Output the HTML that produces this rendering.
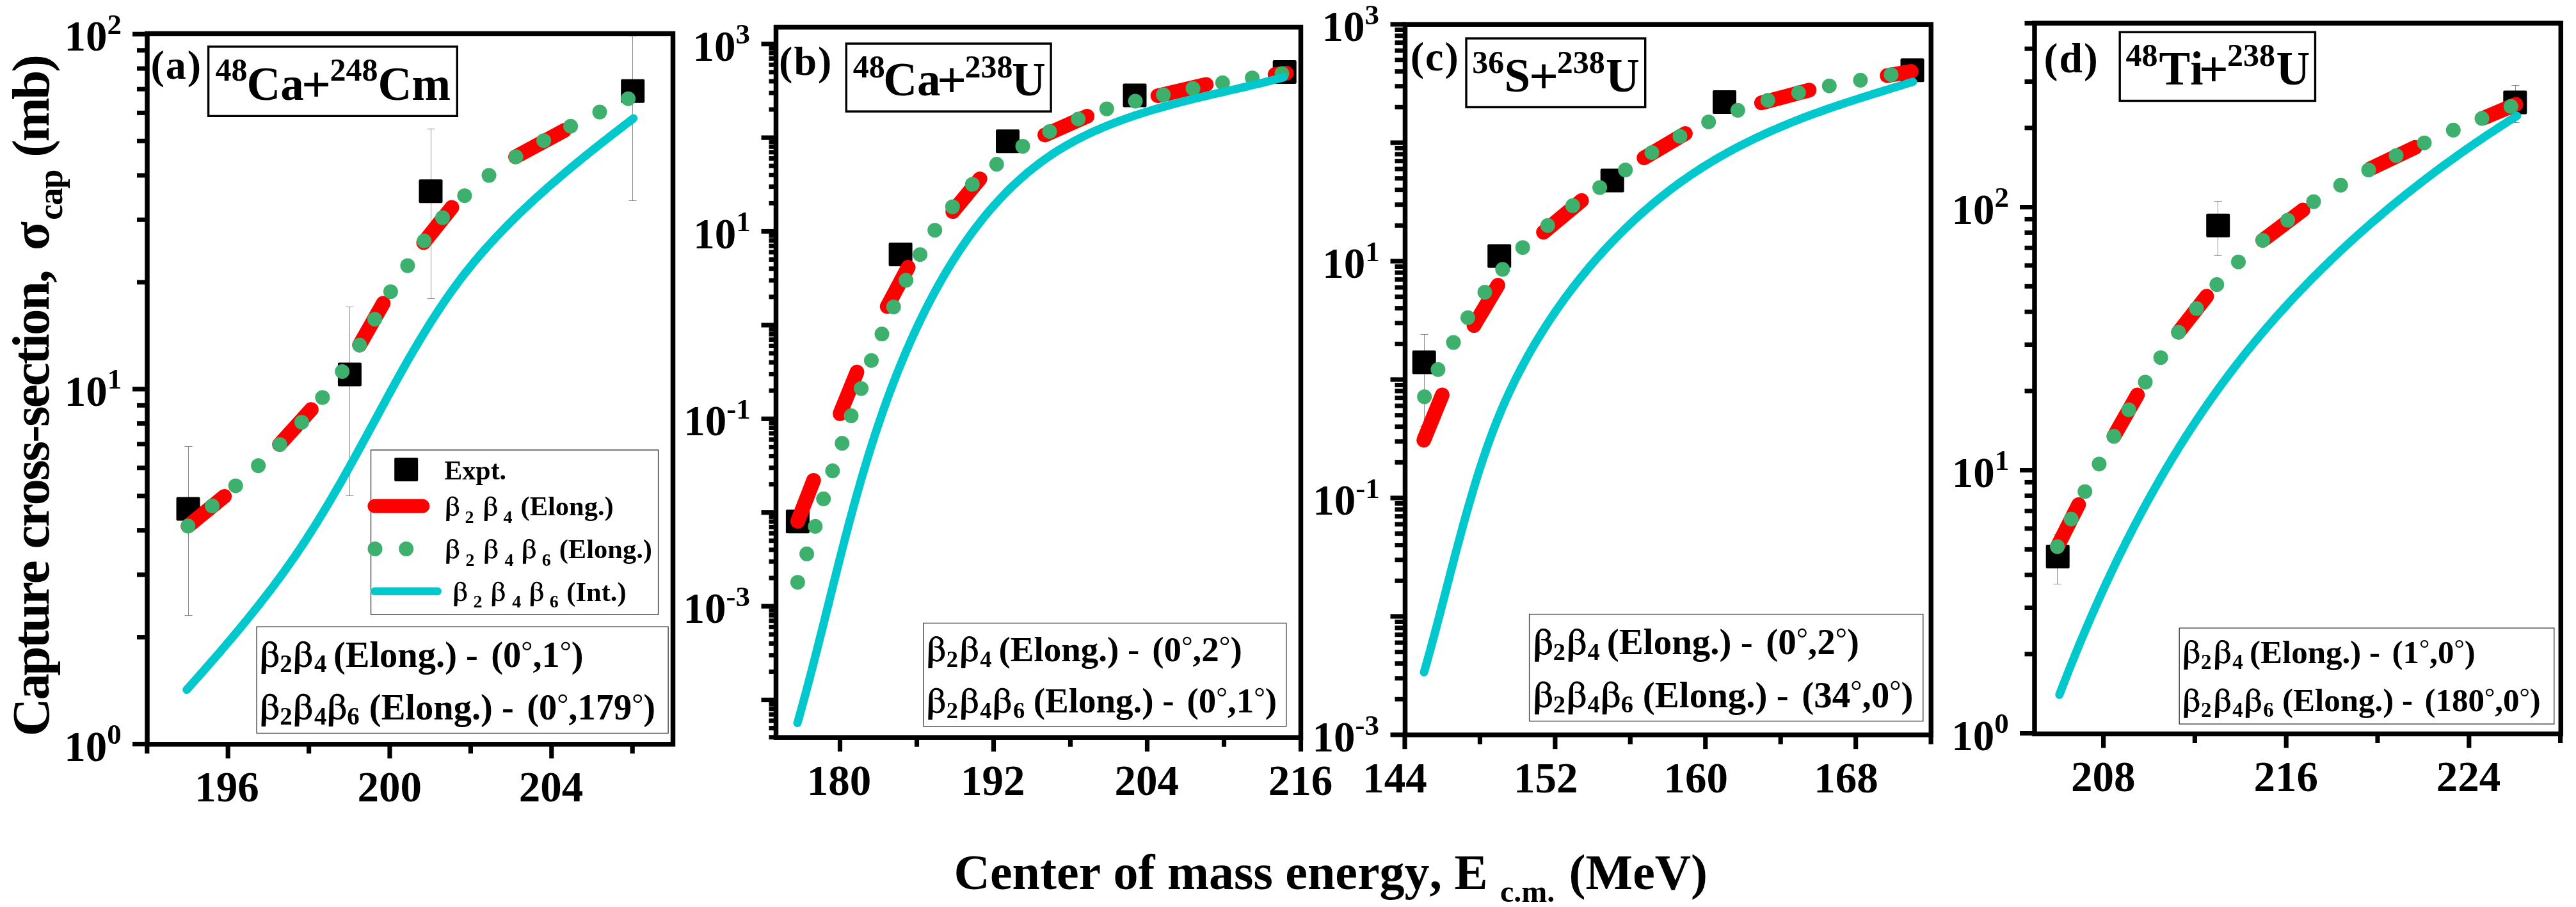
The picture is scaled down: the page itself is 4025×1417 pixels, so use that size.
<!DOCTYPE html>
<html><head><meta charset="utf-8"><style>
html,body{margin:0;padding:0;background:#fff;}
svg{display:block;will-change:transform;}
text{font-family:'Liberation Serif', serif;font-kerning:none;white-space:pre;}
</style></head><body>
<svg width="4025" height="1417" viewBox="0 0 4025 1417">
<defs><path id="beta" fill-rule="evenodd" fill="#000" d="M0,51.3 C0.3,40 0.8,25 1.3,14.6 C1.6,9 3.5,4.5 7.9,1.3 C9.5,0.3 11.2,0 12.9,0 C17.5,0 21.5,2 23.6,5.5 C25.2,8.5 24.7,12.5 22.6,14.6 C21.9,15.3 21.3,15.9 20.8,16.3 C24.4,18.2 26.7,22.4 26.7,27.5 C26.7,34.8 21.8,40.7 15.1,40.7 C12,40.7 9.3,39.8 7.5,38.6 L6.6,51.3 Z M7.3,9.5 C7.4,6.5 9.3,3.1 12.2,3.1 C15,3.1 18,4.5 19.2,7.5 C20.2,10.5 19.6,13.5 17.5,14.9 C16.8,15.4 16.2,15.8 15.8,15.8 L10.4,15.9 C9.9,16.1 9.6,16.6 9.8,17.2 C10,17.8 10.4,18 10.9,18 L15.1,18.3 C18.6,19.5 20.8,23.5 20.8,28.2 C20.8,33.8 17.8,37.8 13.6,37.8 C11.3,37.8 9,36.8 7.5,35.3 Z"/></defs>
<rect width="4025" height="1417" fill="#fff"/>
<line x1="207.00" y1="1162.50" x2="230.00" y2="1162.50" stroke="#000" stroke-width="7.2" stroke-linecap="butt"/>
<line x1="214.00" y1="995.55" x2="230.00" y2="995.55" stroke="#000" stroke-width="7" stroke-linecap="butt"/>
<line x1="214.00" y1="897.89" x2="230.00" y2="897.89" stroke="#000" stroke-width="7" stroke-linecap="butt"/>
<line x1="214.00" y1="828.60" x2="230.00" y2="828.60" stroke="#000" stroke-width="7" stroke-linecap="butt"/>
<line x1="214.00" y1="774.85" x2="230.00" y2="774.85" stroke="#000" stroke-width="7" stroke-linecap="butt"/>
<line x1="214.00" y1="730.94" x2="230.00" y2="730.94" stroke="#000" stroke-width="7" stroke-linecap="butt"/>
<line x1="214.00" y1="693.81" x2="230.00" y2="693.81" stroke="#000" stroke-width="7" stroke-linecap="butt"/>
<line x1="214.00" y1="661.65" x2="230.00" y2="661.65" stroke="#000" stroke-width="7" stroke-linecap="butt"/>
<line x1="214.00" y1="633.28" x2="230.00" y2="633.28" stroke="#000" stroke-width="7" stroke-linecap="butt"/>
<line x1="207.00" y1="607.90" x2="230.00" y2="607.90" stroke="#000" stroke-width="7.2" stroke-linecap="butt"/>
<line x1="214.00" y1="440.95" x2="230.00" y2="440.95" stroke="#000" stroke-width="7" stroke-linecap="butt"/>
<line x1="214.00" y1="343.29" x2="230.00" y2="343.29" stroke="#000" stroke-width="7" stroke-linecap="butt"/>
<line x1="214.00" y1="274.00" x2="230.00" y2="274.00" stroke="#000" stroke-width="7" stroke-linecap="butt"/>
<line x1="214.00" y1="220.25" x2="230.00" y2="220.25" stroke="#000" stroke-width="7" stroke-linecap="butt"/>
<line x1="214.00" y1="176.34" x2="230.00" y2="176.34" stroke="#000" stroke-width="7" stroke-linecap="butt"/>
<line x1="214.00" y1="139.21" x2="230.00" y2="139.21" stroke="#000" stroke-width="7" stroke-linecap="butt"/>
<line x1="214.00" y1="107.05" x2="230.00" y2="107.05" stroke="#000" stroke-width="7" stroke-linecap="butt"/>
<line x1="214.00" y1="78.68" x2="230.00" y2="78.68" stroke="#000" stroke-width="7" stroke-linecap="butt"/>
<line x1="207.00" y1="53.30" x2="230.00" y2="53.30" stroke="#000" stroke-width="7.2" stroke-linecap="butt"/>
<line x1="356.20" y1="1162.80" x2="356.20" y2="1184.80" stroke="#000" stroke-width="7.2" stroke-linecap="butt"/>
<line x1="609.00" y1="1162.80" x2="609.00" y2="1184.80" stroke="#000" stroke-width="7.2" stroke-linecap="butt"/>
<line x1="861.80" y1="1162.80" x2="861.80" y2="1184.80" stroke="#000" stroke-width="7.2" stroke-linecap="butt"/>
<line x1="229.80" y1="1162.80" x2="229.80" y2="1177.30" stroke="#000" stroke-width="7.2" stroke-linecap="butt"/>
<line x1="482.60" y1="1162.80" x2="482.60" y2="1177.30" stroke="#000" stroke-width="7.2" stroke-linecap="butt"/>
<line x1="735.40" y1="1162.80" x2="735.40" y2="1177.30" stroke="#000" stroke-width="7.2" stroke-linecap="butt"/>
<line x1="988.20" y1="1162.80" x2="988.20" y2="1177.30" stroke="#000" stroke-width="7.2" stroke-linecap="butt"/>
<rect x="230.00" y="52.50" width="821.50" height="1110.30" stroke="#000" stroke-width="7.5" fill="none"/>
<text x="304.25" y="1252.30" font-size="67" font-weight="bold">196</text>
<text x="558.62" y="1252.30" font-size="67" font-weight="bold">200</text>
<text x="810.76" y="1252.30" font-size="67" font-weight="bold">204</text>
<text x="167.21" y="1162.00" font-size="45" font-weight="bold">0</text>
<text x="100.21" y="1188.50" font-size="67" font-weight="bold">10</text>
<text x="167.83" y="607.40" font-size="45" font-weight="bold">1</text>
<text x="100.83" y="633.90" font-size="67" font-weight="bold">10</text>
<text x="167.43" y="52.80" font-size="45" font-weight="bold">2</text>
<text x="100.43" y="79.30" font-size="67" font-weight="bold">10</text>
<line x1="1201.50" y1="1151.76" x2="1212.50" y2="1151.76" stroke="#000" stroke-width="7" stroke-linecap="butt"/>
<line x1="1201.50" y1="1137.57" x2="1212.50" y2="1137.57" stroke="#000" stroke-width="7" stroke-linecap="butt"/>
<line x1="1201.50" y1="1125.98" x2="1212.50" y2="1125.98" stroke="#000" stroke-width="7" stroke-linecap="butt"/>
<line x1="1201.50" y1="1116.18" x2="1212.50" y2="1116.18" stroke="#000" stroke-width="7" stroke-linecap="butt"/>
<line x1="1201.50" y1="1107.69" x2="1212.50" y2="1107.69" stroke="#000" stroke-width="7" stroke-linecap="butt"/>
<line x1="1201.50" y1="1100.20" x2="1212.50" y2="1100.20" stroke="#000" stroke-width="7" stroke-linecap="butt"/>
<line x1="1189.50" y1="1093.50" x2="1212.50" y2="1093.50" stroke="#000" stroke-width="7.2" stroke-linecap="butt"/>
<line x1="1201.50" y1="1049.43" x2="1212.50" y2="1049.43" stroke="#000" stroke-width="7" stroke-linecap="butt"/>
<line x1="1201.50" y1="1023.65" x2="1212.50" y2="1023.65" stroke="#000" stroke-width="7" stroke-linecap="butt"/>
<line x1="1201.50" y1="1005.36" x2="1212.50" y2="1005.36" stroke="#000" stroke-width="7" stroke-linecap="butt"/>
<line x1="1201.50" y1="991.17" x2="1212.50" y2="991.17" stroke="#000" stroke-width="7" stroke-linecap="butt"/>
<line x1="1201.50" y1="979.58" x2="1212.50" y2="979.58" stroke="#000" stroke-width="7" stroke-linecap="butt"/>
<line x1="1201.50" y1="969.78" x2="1212.50" y2="969.78" stroke="#000" stroke-width="7" stroke-linecap="butt"/>
<line x1="1201.50" y1="961.29" x2="1212.50" y2="961.29" stroke="#000" stroke-width="7" stroke-linecap="butt"/>
<line x1="1201.50" y1="953.80" x2="1212.50" y2="953.80" stroke="#000" stroke-width="7" stroke-linecap="butt"/>
<line x1="1189.50" y1="947.10" x2="1212.50" y2="947.10" stroke="#000" stroke-width="7.2" stroke-linecap="butt"/>
<line x1="1201.50" y1="903.03" x2="1212.50" y2="903.03" stroke="#000" stroke-width="7" stroke-linecap="butt"/>
<line x1="1201.50" y1="877.25" x2="1212.50" y2="877.25" stroke="#000" stroke-width="7" stroke-linecap="butt"/>
<line x1="1201.50" y1="858.96" x2="1212.50" y2="858.96" stroke="#000" stroke-width="7" stroke-linecap="butt"/>
<line x1="1201.50" y1="844.77" x2="1212.50" y2="844.77" stroke="#000" stroke-width="7" stroke-linecap="butt"/>
<line x1="1201.50" y1="833.18" x2="1212.50" y2="833.18" stroke="#000" stroke-width="7" stroke-linecap="butt"/>
<line x1="1201.50" y1="823.38" x2="1212.50" y2="823.38" stroke="#000" stroke-width="7" stroke-linecap="butt"/>
<line x1="1201.50" y1="814.89" x2="1212.50" y2="814.89" stroke="#000" stroke-width="7" stroke-linecap="butt"/>
<line x1="1201.50" y1="807.40" x2="1212.50" y2="807.40" stroke="#000" stroke-width="7" stroke-linecap="butt"/>
<line x1="1189.50" y1="800.70" x2="1212.50" y2="800.70" stroke="#000" stroke-width="7.2" stroke-linecap="butt"/>
<line x1="1201.50" y1="756.63" x2="1212.50" y2="756.63" stroke="#000" stroke-width="7" stroke-linecap="butt"/>
<line x1="1201.50" y1="730.85" x2="1212.50" y2="730.85" stroke="#000" stroke-width="7" stroke-linecap="butt"/>
<line x1="1201.50" y1="712.56" x2="1212.50" y2="712.56" stroke="#000" stroke-width="7" stroke-linecap="butt"/>
<line x1="1201.50" y1="698.37" x2="1212.50" y2="698.37" stroke="#000" stroke-width="7" stroke-linecap="butt"/>
<line x1="1201.50" y1="686.78" x2="1212.50" y2="686.78" stroke="#000" stroke-width="7" stroke-linecap="butt"/>
<line x1="1201.50" y1="676.98" x2="1212.50" y2="676.98" stroke="#000" stroke-width="7" stroke-linecap="butt"/>
<line x1="1201.50" y1="668.49" x2="1212.50" y2="668.49" stroke="#000" stroke-width="7" stroke-linecap="butt"/>
<line x1="1201.50" y1="661.00" x2="1212.50" y2="661.00" stroke="#000" stroke-width="7" stroke-linecap="butt"/>
<line x1="1189.50" y1="654.30" x2="1212.50" y2="654.30" stroke="#000" stroke-width="7.2" stroke-linecap="butt"/>
<line x1="1201.50" y1="610.23" x2="1212.50" y2="610.23" stroke="#000" stroke-width="7" stroke-linecap="butt"/>
<line x1="1201.50" y1="584.45" x2="1212.50" y2="584.45" stroke="#000" stroke-width="7" stroke-linecap="butt"/>
<line x1="1201.50" y1="566.16" x2="1212.50" y2="566.16" stroke="#000" stroke-width="7" stroke-linecap="butt"/>
<line x1="1201.50" y1="551.97" x2="1212.50" y2="551.97" stroke="#000" stroke-width="7" stroke-linecap="butt"/>
<line x1="1201.50" y1="540.38" x2="1212.50" y2="540.38" stroke="#000" stroke-width="7" stroke-linecap="butt"/>
<line x1="1201.50" y1="530.58" x2="1212.50" y2="530.58" stroke="#000" stroke-width="7" stroke-linecap="butt"/>
<line x1="1201.50" y1="522.09" x2="1212.50" y2="522.09" stroke="#000" stroke-width="7" stroke-linecap="butt"/>
<line x1="1201.50" y1="514.60" x2="1212.50" y2="514.60" stroke="#000" stroke-width="7" stroke-linecap="butt"/>
<line x1="1189.50" y1="507.90" x2="1212.50" y2="507.90" stroke="#000" stroke-width="7.2" stroke-linecap="butt"/>
<line x1="1201.50" y1="463.83" x2="1212.50" y2="463.83" stroke="#000" stroke-width="7" stroke-linecap="butt"/>
<line x1="1201.50" y1="438.05" x2="1212.50" y2="438.05" stroke="#000" stroke-width="7" stroke-linecap="butt"/>
<line x1="1201.50" y1="419.76" x2="1212.50" y2="419.76" stroke="#000" stroke-width="7" stroke-linecap="butt"/>
<line x1="1201.50" y1="405.57" x2="1212.50" y2="405.57" stroke="#000" stroke-width="7" stroke-linecap="butt"/>
<line x1="1201.50" y1="393.98" x2="1212.50" y2="393.98" stroke="#000" stroke-width="7" stroke-linecap="butt"/>
<line x1="1201.50" y1="384.18" x2="1212.50" y2="384.18" stroke="#000" stroke-width="7" stroke-linecap="butt"/>
<line x1="1201.50" y1="375.69" x2="1212.50" y2="375.69" stroke="#000" stroke-width="7" stroke-linecap="butt"/>
<line x1="1201.50" y1="368.20" x2="1212.50" y2="368.20" stroke="#000" stroke-width="7" stroke-linecap="butt"/>
<line x1="1189.50" y1="361.50" x2="1212.50" y2="361.50" stroke="#000" stroke-width="7.2" stroke-linecap="butt"/>
<line x1="1201.50" y1="317.43" x2="1212.50" y2="317.43" stroke="#000" stroke-width="7" stroke-linecap="butt"/>
<line x1="1201.50" y1="291.65" x2="1212.50" y2="291.65" stroke="#000" stroke-width="7" stroke-linecap="butt"/>
<line x1="1201.50" y1="273.36" x2="1212.50" y2="273.36" stroke="#000" stroke-width="7" stroke-linecap="butt"/>
<line x1="1201.50" y1="259.17" x2="1212.50" y2="259.17" stroke="#000" stroke-width="7" stroke-linecap="butt"/>
<line x1="1201.50" y1="247.58" x2="1212.50" y2="247.58" stroke="#000" stroke-width="7" stroke-linecap="butt"/>
<line x1="1201.50" y1="237.78" x2="1212.50" y2="237.78" stroke="#000" stroke-width="7" stroke-linecap="butt"/>
<line x1="1201.50" y1="229.29" x2="1212.50" y2="229.29" stroke="#000" stroke-width="7" stroke-linecap="butt"/>
<line x1="1201.50" y1="221.80" x2="1212.50" y2="221.80" stroke="#000" stroke-width="7" stroke-linecap="butt"/>
<line x1="1189.50" y1="215.10" x2="1212.50" y2="215.10" stroke="#000" stroke-width="7.2" stroke-linecap="butt"/>
<line x1="1201.50" y1="171.03" x2="1212.50" y2="171.03" stroke="#000" stroke-width="7" stroke-linecap="butt"/>
<line x1="1201.50" y1="145.25" x2="1212.50" y2="145.25" stroke="#000" stroke-width="7" stroke-linecap="butt"/>
<line x1="1201.50" y1="126.96" x2="1212.50" y2="126.96" stroke="#000" stroke-width="7" stroke-linecap="butt"/>
<line x1="1201.50" y1="112.77" x2="1212.50" y2="112.77" stroke="#000" stroke-width="7" stroke-linecap="butt"/>
<line x1="1201.50" y1="101.18" x2="1212.50" y2="101.18" stroke="#000" stroke-width="7" stroke-linecap="butt"/>
<line x1="1201.50" y1="91.38" x2="1212.50" y2="91.38" stroke="#000" stroke-width="7" stroke-linecap="butt"/>
<line x1="1201.50" y1="82.89" x2="1212.50" y2="82.89" stroke="#000" stroke-width="7" stroke-linecap="butt"/>
<line x1="1201.50" y1="75.40" x2="1212.50" y2="75.40" stroke="#000" stroke-width="7" stroke-linecap="butt"/>
<line x1="1189.50" y1="68.70" x2="1212.50" y2="68.70" stroke="#000" stroke-width="7.2" stroke-linecap="butt"/>
<line x1="1312.50" y1="1152.20" x2="1312.50" y2="1174.20" stroke="#000" stroke-width="7.2" stroke-linecap="butt"/>
<line x1="1552.50" y1="1152.20" x2="1552.50" y2="1174.20" stroke="#000" stroke-width="7.2" stroke-linecap="butt"/>
<line x1="1792.50" y1="1152.20" x2="1792.50" y2="1174.20" stroke="#000" stroke-width="7.2" stroke-linecap="butt"/>
<line x1="2032.50" y1="1152.20" x2="2032.50" y2="1174.20" stroke="#000" stroke-width="7.2" stroke-linecap="butt"/>
<line x1="1432.50" y1="1152.20" x2="1432.50" y2="1166.70" stroke="#000" stroke-width="7.2" stroke-linecap="butt"/>
<line x1="1672.50" y1="1152.20" x2="1672.50" y2="1166.70" stroke="#000" stroke-width="7.2" stroke-linecap="butt"/>
<line x1="1912.50" y1="1152.20" x2="1912.50" y2="1166.70" stroke="#000" stroke-width="7.2" stroke-linecap="butt"/>
<rect x="1212.50" y="42.50" width="820.00" height="1109.70" stroke="#000" stroke-width="7.5" fill="none"/>
<text x="1260.84" y="1241.70" font-size="67" font-weight="bold">180</text>
<text x="1501.01" y="1241.70" font-size="67" font-weight="bold">192</text>
<text x="1741.46" y="1241.70" font-size="67" font-weight="bold">204</text>
<text x="1981.82" y="1241.70" font-size="67" font-weight="bold">216</text>
<text x="1149.54" y="68.20" font-size="45" font-weight="bold">3</text>
<text x="1082.54" y="94.70" font-size="67" font-weight="bold">10</text>
<text x="1150.33" y="361.00" font-size="45" font-weight="bold">1</text>
<text x="1083.33" y="387.50" font-size="67" font-weight="bold">10</text>
<text x="1135.34" y="653.80" font-size="45" font-weight="bold">-1</text>
<text x="1068.34" y="680.30" font-size="67" font-weight="bold">10</text>
<text x="1134.55" y="946.60" font-size="45" font-weight="bold">-3</text>
<text x="1067.55" y="973.10" font-size="67" font-weight="bold">10</text>
<line x1="2172.50" y1="1148.00" x2="2195.50" y2="1148.00" stroke="#000" stroke-width="7.2" stroke-linecap="butt"/>
<line x1="2179.50" y1="1092.31" x2="2195.50" y2="1092.31" stroke="#000" stroke-width="7" stroke-linecap="butt"/>
<line x1="2179.50" y1="1059.73" x2="2195.50" y2="1059.73" stroke="#000" stroke-width="7" stroke-linecap="butt"/>
<line x1="2179.50" y1="1036.62" x2="2195.50" y2="1036.62" stroke="#000" stroke-width="7" stroke-linecap="butt"/>
<line x1="2179.50" y1="1018.69" x2="2195.50" y2="1018.69" stroke="#000" stroke-width="7" stroke-linecap="butt"/>
<line x1="2179.50" y1="1004.04" x2="2195.50" y2="1004.04" stroke="#000" stroke-width="7" stroke-linecap="butt"/>
<line x1="2179.50" y1="991.66" x2="2195.50" y2="991.66" stroke="#000" stroke-width="7" stroke-linecap="butt"/>
<line x1="2179.50" y1="980.93" x2="2195.50" y2="980.93" stroke="#000" stroke-width="7" stroke-linecap="butt"/>
<line x1="2179.50" y1="971.47" x2="2195.50" y2="971.47" stroke="#000" stroke-width="7" stroke-linecap="butt"/>
<line x1="2172.50" y1="963.00" x2="2195.50" y2="963.00" stroke="#000" stroke-width="7.2" stroke-linecap="butt"/>
<line x1="2179.50" y1="907.31" x2="2195.50" y2="907.31" stroke="#000" stroke-width="7" stroke-linecap="butt"/>
<line x1="2179.50" y1="874.73" x2="2195.50" y2="874.73" stroke="#000" stroke-width="7" stroke-linecap="butt"/>
<line x1="2179.50" y1="851.62" x2="2195.50" y2="851.62" stroke="#000" stroke-width="7" stroke-linecap="butt"/>
<line x1="2179.50" y1="833.69" x2="2195.50" y2="833.69" stroke="#000" stroke-width="7" stroke-linecap="butt"/>
<line x1="2179.50" y1="819.04" x2="2195.50" y2="819.04" stroke="#000" stroke-width="7" stroke-linecap="butt"/>
<line x1="2179.50" y1="806.66" x2="2195.50" y2="806.66" stroke="#000" stroke-width="7" stroke-linecap="butt"/>
<line x1="2179.50" y1="795.93" x2="2195.50" y2="795.93" stroke="#000" stroke-width="7" stroke-linecap="butt"/>
<line x1="2179.50" y1="786.47" x2="2195.50" y2="786.47" stroke="#000" stroke-width="7" stroke-linecap="butt"/>
<line x1="2172.50" y1="778.00" x2="2195.50" y2="778.00" stroke="#000" stroke-width="7.2" stroke-linecap="butt"/>
<line x1="2179.50" y1="722.31" x2="2195.50" y2="722.31" stroke="#000" stroke-width="7" stroke-linecap="butt"/>
<line x1="2179.50" y1="689.73" x2="2195.50" y2="689.73" stroke="#000" stroke-width="7" stroke-linecap="butt"/>
<line x1="2179.50" y1="666.62" x2="2195.50" y2="666.62" stroke="#000" stroke-width="7" stroke-linecap="butt"/>
<line x1="2179.50" y1="648.69" x2="2195.50" y2="648.69" stroke="#000" stroke-width="7" stroke-linecap="butt"/>
<line x1="2179.50" y1="634.04" x2="2195.50" y2="634.04" stroke="#000" stroke-width="7" stroke-linecap="butt"/>
<line x1="2179.50" y1="621.66" x2="2195.50" y2="621.66" stroke="#000" stroke-width="7" stroke-linecap="butt"/>
<line x1="2179.50" y1="610.93" x2="2195.50" y2="610.93" stroke="#000" stroke-width="7" stroke-linecap="butt"/>
<line x1="2179.50" y1="601.47" x2="2195.50" y2="601.47" stroke="#000" stroke-width="7" stroke-linecap="butt"/>
<line x1="2172.50" y1="593.00" x2="2195.50" y2="593.00" stroke="#000" stroke-width="7.2" stroke-linecap="butt"/>
<line x1="2179.50" y1="537.31" x2="2195.50" y2="537.31" stroke="#000" stroke-width="7" stroke-linecap="butt"/>
<line x1="2179.50" y1="504.73" x2="2195.50" y2="504.73" stroke="#000" stroke-width="7" stroke-linecap="butt"/>
<line x1="2179.50" y1="481.62" x2="2195.50" y2="481.62" stroke="#000" stroke-width="7" stroke-linecap="butt"/>
<line x1="2179.50" y1="463.69" x2="2195.50" y2="463.69" stroke="#000" stroke-width="7" stroke-linecap="butt"/>
<line x1="2179.50" y1="449.04" x2="2195.50" y2="449.04" stroke="#000" stroke-width="7" stroke-linecap="butt"/>
<line x1="2179.50" y1="436.66" x2="2195.50" y2="436.66" stroke="#000" stroke-width="7" stroke-linecap="butt"/>
<line x1="2179.50" y1="425.93" x2="2195.50" y2="425.93" stroke="#000" stroke-width="7" stroke-linecap="butt"/>
<line x1="2179.50" y1="416.47" x2="2195.50" y2="416.47" stroke="#000" stroke-width="7" stroke-linecap="butt"/>
<line x1="2172.50" y1="408.00" x2="2195.50" y2="408.00" stroke="#000" stroke-width="7.2" stroke-linecap="butt"/>
<line x1="2179.50" y1="352.31" x2="2195.50" y2="352.31" stroke="#000" stroke-width="7" stroke-linecap="butt"/>
<line x1="2179.50" y1="319.73" x2="2195.50" y2="319.73" stroke="#000" stroke-width="7" stroke-linecap="butt"/>
<line x1="2179.50" y1="296.62" x2="2195.50" y2="296.62" stroke="#000" stroke-width="7" stroke-linecap="butt"/>
<line x1="2179.50" y1="278.69" x2="2195.50" y2="278.69" stroke="#000" stroke-width="7" stroke-linecap="butt"/>
<line x1="2179.50" y1="264.04" x2="2195.50" y2="264.04" stroke="#000" stroke-width="7" stroke-linecap="butt"/>
<line x1="2179.50" y1="251.66" x2="2195.50" y2="251.66" stroke="#000" stroke-width="7" stroke-linecap="butt"/>
<line x1="2179.50" y1="240.93" x2="2195.50" y2="240.93" stroke="#000" stroke-width="7" stroke-linecap="butt"/>
<line x1="2179.50" y1="231.47" x2="2195.50" y2="231.47" stroke="#000" stroke-width="7" stroke-linecap="butt"/>
<line x1="2172.50" y1="223.00" x2="2195.50" y2="223.00" stroke="#000" stroke-width="7.2" stroke-linecap="butt"/>
<line x1="2179.50" y1="167.31" x2="2195.50" y2="167.31" stroke="#000" stroke-width="7" stroke-linecap="butt"/>
<line x1="2179.50" y1="134.73" x2="2195.50" y2="134.73" stroke="#000" stroke-width="7" stroke-linecap="butt"/>
<line x1="2179.50" y1="111.62" x2="2195.50" y2="111.62" stroke="#000" stroke-width="7" stroke-linecap="butt"/>
<line x1="2179.50" y1="93.69" x2="2195.50" y2="93.69" stroke="#000" stroke-width="7" stroke-linecap="butt"/>
<line x1="2179.50" y1="79.04" x2="2195.50" y2="79.04" stroke="#000" stroke-width="7" stroke-linecap="butt"/>
<line x1="2179.50" y1="66.66" x2="2195.50" y2="66.66" stroke="#000" stroke-width="7" stroke-linecap="butt"/>
<line x1="2179.50" y1="55.93" x2="2195.50" y2="55.93" stroke="#000" stroke-width="7" stroke-linecap="butt"/>
<line x1="2179.50" y1="46.47" x2="2195.50" y2="46.47" stroke="#000" stroke-width="7" stroke-linecap="butt"/>
<line x1="2172.50" y1="38.00" x2="2195.50" y2="38.00" stroke="#000" stroke-width="7.2" stroke-linecap="butt"/>
<line x1="2195.00" y1="1148.20" x2="2195.00" y2="1170.20" stroke="#000" stroke-width="7.2" stroke-linecap="butt"/>
<line x1="2429.88" y1="1148.20" x2="2429.88" y2="1170.20" stroke="#000" stroke-width="7.2" stroke-linecap="butt"/>
<line x1="2664.76" y1="1148.20" x2="2664.76" y2="1170.20" stroke="#000" stroke-width="7.2" stroke-linecap="butt"/>
<line x1="2899.64" y1="1148.20" x2="2899.64" y2="1170.20" stroke="#000" stroke-width="7.2" stroke-linecap="butt"/>
<line x1="2312.44" y1="1148.20" x2="2312.44" y2="1162.70" stroke="#000" stroke-width="7.2" stroke-linecap="butt"/>
<line x1="2547.32" y1="1148.20" x2="2547.32" y2="1162.70" stroke="#000" stroke-width="7.2" stroke-linecap="butt"/>
<line x1="2782.20" y1="1148.20" x2="2782.20" y2="1162.70" stroke="#000" stroke-width="7.2" stroke-linecap="butt"/>
<line x1="3017.08" y1="1148.20" x2="3017.08" y2="1162.70" stroke="#000" stroke-width="7.2" stroke-linecap="butt"/>
<rect x="2195.50" y="38.20" width="821.80" height="1110.00" stroke="#000" stroke-width="7.5" fill="none"/>
<text x="2129.19" y="1237.70" font-size="67" font-weight="bold">144</text>
<text x="2364.89" y="1237.70" font-size="67" font-weight="bold">152</text>
<text x="2599.60" y="1237.70" font-size="67" font-weight="bold">160</text>
<text x="2834.32" y="1237.70" font-size="67" font-weight="bold">168</text>
<text x="2132.54" y="37.50" font-size="45" font-weight="bold">3</text>
<text x="2065.54" y="64.00" font-size="67" font-weight="bold">10</text>
<text x="2133.33" y="407.50" font-size="45" font-weight="bold">1</text>
<text x="2066.33" y="434.00" font-size="67" font-weight="bold">10</text>
<text x="2118.34" y="777.50" font-size="45" font-weight="bold">-1</text>
<text x="2051.34" y="804.00" font-size="67" font-weight="bold">10</text>
<text x="2117.55" y="1147.50" font-size="45" font-weight="bold">-3</text>
<text x="2050.55" y="1174.00" font-size="67" font-weight="bold">10</text>
<line x1="3156.00" y1="1145.60" x2="3179.00" y2="1145.60" stroke="#000" stroke-width="7.2" stroke-linecap="butt"/>
<line x1="3163.50" y1="1021.88" x2="3179.00" y2="1021.88" stroke="#000" stroke-width="7" stroke-linecap="butt"/>
<line x1="3163.50" y1="949.50" x2="3179.00" y2="949.50" stroke="#000" stroke-width="7" stroke-linecap="butt"/>
<line x1="3163.50" y1="898.15" x2="3179.00" y2="898.15" stroke="#000" stroke-width="7" stroke-linecap="butt"/>
<line x1="3163.50" y1="858.32" x2="3179.00" y2="858.32" stroke="#000" stroke-width="7" stroke-linecap="butt"/>
<line x1="3163.50" y1="825.78" x2="3179.00" y2="825.78" stroke="#000" stroke-width="7" stroke-linecap="butt"/>
<line x1="3163.50" y1="798.26" x2="3179.00" y2="798.26" stroke="#000" stroke-width="7" stroke-linecap="butt"/>
<line x1="3163.50" y1="774.43" x2="3179.00" y2="774.43" stroke="#000" stroke-width="7" stroke-linecap="butt"/>
<line x1="3163.50" y1="753.41" x2="3179.00" y2="753.41" stroke="#000" stroke-width="7" stroke-linecap="butt"/>
<line x1="3156.00" y1="734.60" x2="3179.00" y2="734.60" stroke="#000" stroke-width="7.2" stroke-linecap="butt"/>
<line x1="3163.50" y1="610.88" x2="3179.00" y2="610.88" stroke="#000" stroke-width="7" stroke-linecap="butt"/>
<line x1="3163.50" y1="538.50" x2="3179.00" y2="538.50" stroke="#000" stroke-width="7" stroke-linecap="butt"/>
<line x1="3163.50" y1="487.15" x2="3179.00" y2="487.15" stroke="#000" stroke-width="7" stroke-linecap="butt"/>
<line x1="3163.50" y1="447.32" x2="3179.00" y2="447.32" stroke="#000" stroke-width="7" stroke-linecap="butt"/>
<line x1="3163.50" y1="414.78" x2="3179.00" y2="414.78" stroke="#000" stroke-width="7" stroke-linecap="butt"/>
<line x1="3163.50" y1="387.26" x2="3179.00" y2="387.26" stroke="#000" stroke-width="7" stroke-linecap="butt"/>
<line x1="3163.50" y1="363.43" x2="3179.00" y2="363.43" stroke="#000" stroke-width="7" stroke-linecap="butt"/>
<line x1="3163.50" y1="342.41" x2="3179.00" y2="342.41" stroke="#000" stroke-width="7" stroke-linecap="butt"/>
<line x1="3156.00" y1="323.60" x2="3179.00" y2="323.60" stroke="#000" stroke-width="7.2" stroke-linecap="butt"/>
<line x1="3163.50" y1="199.88" x2="3179.00" y2="199.88" stroke="#000" stroke-width="7" stroke-linecap="butt"/>
<line x1="3163.50" y1="127.50" x2="3179.00" y2="127.50" stroke="#000" stroke-width="7" stroke-linecap="butt"/>
<line x1="3163.50" y1="76.15" x2="3179.00" y2="76.15" stroke="#000" stroke-width="7" stroke-linecap="butt"/>
<line x1="3163.50" y1="36.32" x2="3179.00" y2="36.32" stroke="#000" stroke-width="7" stroke-linecap="butt"/>
<line x1="3286.60" y1="1146.50" x2="3286.60" y2="1168.50" stroke="#000" stroke-width="7.2" stroke-linecap="butt"/>
<line x1="3572.20" y1="1146.50" x2="3572.20" y2="1168.50" stroke="#000" stroke-width="7.2" stroke-linecap="butt"/>
<line x1="3857.80" y1="1146.50" x2="3857.80" y2="1168.50" stroke="#000" stroke-width="7.2" stroke-linecap="butt"/>
<line x1="3429.40" y1="1146.50" x2="3429.40" y2="1161.00" stroke="#000" stroke-width="7.2" stroke-linecap="butt"/>
<line x1="3715.00" y1="1146.50" x2="3715.00" y2="1161.00" stroke="#000" stroke-width="7.2" stroke-linecap="butt"/>
<line x1="4000.60" y1="1146.50" x2="4000.60" y2="1161.00" stroke="#000" stroke-width="7.2" stroke-linecap="butt"/>
<rect x="3179.00" y="36.20" width="822.30" height="1110.30" stroke="#000" stroke-width="7.5" fill="none"/>
<text x="3236.06" y="1236.00" font-size="67" font-weight="bold">208</text>
<text x="3521.52" y="1236.00" font-size="67" font-weight="bold">216</text>
<text x="3806.76" y="1236.00" font-size="67" font-weight="bold">224</text>
<text x="3116.21" y="1145.10" font-size="45" font-weight="bold">0</text>
<text x="3049.21" y="1171.60" font-size="67" font-weight="bold">10</text>
<text x="3116.83" y="734.10" font-size="45" font-weight="bold">1</text>
<text x="3049.83" y="760.60" font-size="67" font-weight="bold">10</text>
<text x="3116.43" y="323.10" font-size="45" font-weight="bold">2</text>
<text x="3049.43" y="349.60" font-size="67" font-weight="bold">10</text>
<clipPath id="clipa"><rect x="233.75" y="56.25" width="814.0" height="1102.8"/></clipPath>
<g clip-path="url(#clipa)">
<line x1="294.50" y1="697.50" x2="294.50" y2="961.50" stroke="#8c8c8c" stroke-width="1" stroke-linecap="butt"/>
<line x1="288.50" y1="697.50" x2="300.50" y2="697.50" stroke="#8c8c8c" stroke-width="1" stroke-linecap="butt"/>
<line x1="288.50" y1="961.50" x2="300.50" y2="961.50" stroke="#8c8c8c" stroke-width="1" stroke-linecap="butt"/>
<line x1="546.50" y1="479.50" x2="546.50" y2="774.50" stroke="#8c8c8c" stroke-width="1" stroke-linecap="butt"/>
<line x1="540.50" y1="479.50" x2="552.50" y2="479.50" stroke="#8c8c8c" stroke-width="1" stroke-linecap="butt"/>
<line x1="540.50" y1="774.50" x2="552.50" y2="774.50" stroke="#8c8c8c" stroke-width="1" stroke-linecap="butt"/>
<line x1="673.50" y1="201.50" x2="673.50" y2="466.50" stroke="#8c8c8c" stroke-width="1" stroke-linecap="butt"/>
<line x1="667.50" y1="201.50" x2="679.50" y2="201.50" stroke="#8c8c8c" stroke-width="1" stroke-linecap="butt"/>
<line x1="667.50" y1="466.50" x2="679.50" y2="466.50" stroke="#8c8c8c" stroke-width="1" stroke-linecap="butt"/>
<line x1="988.50" y1="56.50" x2="988.50" y2="313.50" stroke="#8c8c8c" stroke-width="1" stroke-linecap="butt"/>
<line x1="982.50" y1="56.50" x2="994.50" y2="56.50" stroke="#8c8c8c" stroke-width="1" stroke-linecap="butt"/>
<line x1="982.50" y1="313.50" x2="994.50" y2="313.50" stroke="#8c8c8c" stroke-width="1" stroke-linecap="butt"/>
<rect x="970.2" y="123.7" width="37" height="37" rx="2" fill="#000"/>
<rect x="654.5" y="280.3" width="37" height="37" rx="2" fill="#000"/>
<rect x="527.9" y="566.6" width="37" height="37" rx="2" fill="#000"/>
<rect x="275.5" y="776.5" width="37" height="37" rx="2" fill="#000"/>
<line x1="805.60" y1="245.00" x2="881.70" y2="203.80" stroke="#ff0000" stroke-width="23" stroke-linecap="round"/>
<line x1="662.00" y1="379.00" x2="706.00" y2="324.00" stroke="#ff0000" stroke-width="23" stroke-linecap="round"/>
<line x1="561.80" y1="539.00" x2="598.80" y2="473.90" stroke="#ff0000" stroke-width="23" stroke-linecap="round"/>
<line x1="436.70" y1="694.40" x2="486.30" y2="639.80" stroke="#ff0000" stroke-width="23" stroke-linecap="round"/>
<line x1="293.80" y1="821.80" x2="350.70" y2="775.40" stroke="#ff0000" stroke-width="23" stroke-linecap="round"/>
<circle cx="981.6" cy="154.2" r="11.5" fill="#3cb06c"/>
<circle cx="937.0" cy="175.0" r="11.5" fill="#3cb06c"/>
<circle cx="891.6" cy="197.2" r="11.5" fill="#3cb06c"/>
<circle cx="849.6" cy="219.7" r="11.5" fill="#3cb06c"/>
<circle cx="806.2" cy="245.1" r="11.5" fill="#3cb06c"/>
<circle cx="764.0" cy="274.0" r="11.5" fill="#3cb06c"/>
<circle cx="725.9" cy="305.7" r="11.5" fill="#3cb06c"/>
<circle cx="691.5" cy="340.0" r="11.5" fill="#3cb06c"/>
<circle cx="662.7" cy="376.3" r="11.5" fill="#3cb06c"/>
<circle cx="636.9" cy="415.0" r="11.5" fill="#3cb06c"/>
<circle cx="610.4" cy="455.7" r="11.5" fill="#3cb06c"/>
<circle cx="585.6" cy="498.7" r="11.5" fill="#3cb06c"/>
<circle cx="561.8" cy="539.1" r="11.5" fill="#3cb06c"/>
<circle cx="534.7" cy="580.4" r="11.5" fill="#3cb06c"/>
<circle cx="503.9" cy="621.0" r="11.5" fill="#3cb06c"/>
<circle cx="471.5" cy="659.7" r="11.5" fill="#3cb06c"/>
<circle cx="437.4" cy="694.4" r="11.5" fill="#3cb06c"/>
<circle cx="403.6" cy="727.5" r="11.5" fill="#3cb06c"/>
<circle cx="368.2" cy="758.9" r="11.5" fill="#3cb06c"/>
<circle cx="331.5" cy="790.3" r="11.5" fill="#3cb06c"/>
<circle cx="293.8" cy="821.8" r="11.5" fill="#3cb06c"/>
<path d="M989.8,184.9 L986.8,187.2 L983.8,189.5 L980.8,191.8 L977.7,194.1 L974.7,196.4 L971.7,198.8 L968.7,201.1 L965.7,203.4 L962.7,205.8 L959.6,208.1 L956.6,210.4 L953.6,212.8 L950.6,215.1 L947.6,217.5 L944.6,219.8 L941.6,222.2 L938.5,224.6 L935.5,226.9 L932.5,229.3 L929.5,231.7 L926.5,234.1 L923.5,236.5 L920.5,238.9 L917.5,241.3 L914.5,243.7 L911.6,246.1 L908.6,248.5 L905.6,251.0 L902.6,253.4 L899.6,255.8 L896.7,258.3 L893.7,260.7 L890.7,263.2 L887.8,265.7 L884.8,268.1 L881.9,270.6 L879.0,273.1 L876.0,275.6 L873.1,278.1 L870.2,280.6 L867.3,283.1 L864.3,285.6 L861.4,288.1 L858.5,290.6 L855.6,293.2 L852.8,295.7 L849.9,298.3 L847.0,300.8 L844.1,303.4 L841.3,306.0 L838.4,308.5 L835.6,311.1 L832.8,313.7 L829.9,316.3 L827.1,318.9 L824.3,321.6 L821.5,324.2 L818.7,326.8 L816.0,329.5 L813.2,332.1 L810.4,334.8 L807.7,337.5 L804.9,340.1 L802.2,342.8 L799.5,345.5 L796.8,348.2 L794.1,350.9 L791.4,353.7 L788.7,356.4 L786.0,359.2 L783.4,361.9 L780.7,364.7 L778.1,367.4 L775.5,370.2 L772.9,373.0 L770.3,375.8 L767.7,378.6 L765.1,381.5 L762.5,384.3 L760.0,387.1 L757.5,390.0 L754.9,392.8 L752.4,395.7 L749.9,398.6 L747.5,401.5 L745.0,404.4 L742.5,407.3 L740.1,410.2 L737.7,413.2 L735.3,416.1 L732.9,419.1 L730.5,422.1 L728.1,425.0 L725.8,428.0 L723.5,431.0 L721.1,434.1 L718.8,437.1 L716.5,440.1 L714.3,443.2 L712.0,446.2 L709.8,449.3 L707.5,452.4 L705.3,455.5 L703.1,458.6 L700.9,461.7 L698.7,464.8 L696.6,467.9 L694.4,471.1 L692.2,474.2 L690.1,477.4 L688.0,480.5 L685.9,483.7 L683.8,486.9 L681.7,490.1 L679.6,493.3 L677.5,496.5 L675.5,499.7 L673.4,502.9 L671.4,506.1 L669.4,509.3 L667.4,512.6 L665.3,515.8 L663.3,519.1 L661.4,522.3 L659.4,525.6 L657.4,528.9 L655.4,532.1 L653.5,535.4 L651.5,538.7 L649.6,542.0 L647.6,545.3 L645.7,548.6 L643.8,551.9 L641.9,555.2 L639.9,558.5 L638.0,561.8 L636.1,565.2 L634.2,568.5 L632.4,571.8 L630.5,575.1 L628.6,578.5 L626.7,581.8 L624.9,585.2 L623.0,588.5 L621.1,591.9 L619.3,595.2 L617.4,598.6 L615.6,601.9 L613.7,605.3 L611.9,608.6 L610.0,612.0 L608.2,615.4 L606.4,618.7 L604.5,622.1 L602.7,625.5 L600.9,628.8 L599.1,632.2 L597.2,635.6 L595.4,638.9 L593.6,642.3 L591.8,645.7 L589.9,649.0 L588.1,652.4 L586.3,655.8 L584.5,659.1 L582.6,662.5 L580.8,665.9 L579.0,669.2 L577.2,672.6 L575.3,676.0 L573.5,679.3 L571.7,682.7 L569.9,686.0 L568.0,689.4 L566.2,692.8 L564.4,696.1 L562.5,699.5 L560.7,702.8 L558.9,706.2 L557.0,709.5 L555.2,712.9 L553.3,716.2 L551.5,719.6 L549.6,722.9 L547.8,726.2 L545.9,729.6 L544.0,732.9 L542.2,736.3 L540.3,739.6 L538.4,742.9 L536.5,746.2 L534.7,749.6 L532.8,752.9 L530.9,756.2 L529.0,759.5 L527.1,762.8 L525.2,766.1 L523.3,769.4 L521.3,772.7 L519.4,776.0 L517.5,779.3 L515.5,782.6 L513.6,785.9 L511.7,789.2 L509.7,792.4 L507.7,795.7 L505.8,799.0 L503.8,802.2 L501.8,805.5 L499.8,808.7 L497.8,812.0 L495.8,815.2 L493.8,818.5 L491.8,821.7 L489.7,824.9 L487.7,828.2 L485.7,831.4 L483.6,834.6 L481.5,837.8 L479.5,841.0 L477.4,844.2 L475.3,847.4 L473.2,850.6 L471.1,853.8 L469.0,856.9 L466.8,860.1 L464.7,863.3 L462.6,866.4 L460.4,869.6 L458.2,872.7 L456.0,875.8 L453.9,879.0 L451.7,882.1 L449.4,885.2 L447.2,888.3 L445.0,891.4 L442.8,894.5 L440.5,897.6 L438.3,900.7 L436.0,903.8 L433.7,906.9 L431.4,909.9 L429.2,913.0 L426.9,916.1 L424.6,919.1 L422.2,922.2 L419.9,925.2 L417.6,928.2 L415.2,931.3 L412.9,934.3 L410.5,937.3 L408.2,940.3 L405.8,943.4 L403.4,946.4 L401.1,949.4 L398.7,952.4 L396.3,955.4 L393.9,958.3 L391.5,961.3 L389.1,964.3 L386.7,967.3 L384.2,970.3 L381.8,973.2 L379.4,976.2 L376.9,979.1 L374.5,982.1 L372.0,985.1 L369.6,988.0 L367.1,990.9 L364.6,993.9 L362.2,996.8 L359.7,999.7 L357.2,1002.7 L354.7,1005.6 L352.2,1008.5 L349.8,1011.4 L347.3,1014.3 L344.8,1017.3 L342.3,1020.2 L339.7,1023.1 L337.2,1026.0 L334.7,1028.9 L332.2,1031.7 L329.7,1034.6 L327.2,1037.5 L324.6,1040.4 L322.1,1043.3 L319.6,1046.2 L317.1,1049.0 L314.5,1051.9 L312.0,1054.8 L309.5,1057.6 L306.9,1060.5 L304.4,1063.4 L301.8,1066.2 L299.3,1069.1 L296.8,1071.9 L294.2,1074.8 L291.7,1077.6" fill="none" stroke="#00c8cc" stroke-width="13" stroke-linecap="round" stroke-linejoin="round"/>
</g>
<clipPath id="clipb"><rect x="1216.25" y="46.25" width="812.5" height="1102.2"/></clipPath>
<g clip-path="url(#clipb)">
<rect x="1988.7" y="93.9" width="37" height="37" rx="2" fill="#000"/>
<rect x="1754.5" y="130.4" width="37" height="37" rx="2" fill="#000"/>
<rect x="1556.0" y="202.3" width="37" height="37" rx="2" fill="#000"/>
<rect x="1388.6" y="378.9" width="37" height="37" rx="2" fill="#000"/>
<rect x="1227.9" y="796.2" width="37" height="37" rx="2" fill="#000"/>
<line x1="1992.30" y1="116.50" x2="2009.90" y2="114.30" stroke="#ff0000" stroke-width="23" stroke-linecap="round"/>
<line x1="1809.20" y1="149.60" x2="1884.80" y2="132.00" stroke="#ff0000" stroke-width="23" stroke-linecap="round"/>
<line x1="1632.40" y1="210.90" x2="1698.80" y2="181.60" stroke="#ff0000" stroke-width="23" stroke-linecap="round"/>
<line x1="1488.80" y1="330.60" x2="1531.20" y2="279.40" stroke="#ff0000" stroke-width="23" stroke-linecap="round"/>
<line x1="1386.30" y1="478.80" x2="1419.00" y2="417.60" stroke="#ff0000" stroke-width="23" stroke-linecap="round"/>
<line x1="1312.50" y1="646.30" x2="1339.00" y2="581.30" stroke="#ff0000" stroke-width="23" stroke-linecap="round"/>
<line x1="1246.40" y1="814.40" x2="1271.20" y2="750.50" stroke="#ff0000" stroke-width="23" stroke-linecap="round"/>
<circle cx="2003.0" cy="115.0" r="11.5" fill="#3cb06c"/>
<circle cx="1956.6" cy="121.7" r="11.5" fill="#3cb06c"/>
<circle cx="1910.3" cy="129.3" r="11.5" fill="#3cb06c"/>
<circle cx="1864.0" cy="138.2" r="11.5" fill="#3cb06c"/>
<circle cx="1817.7" cy="148.1" r="11.5" fill="#3cb06c"/>
<circle cx="1774.0" cy="158.1" r="11.5" fill="#3cb06c"/>
<circle cx="1729.3" cy="170.0" r="11.5" fill="#3cb06c"/>
<circle cx="1684.7" cy="185.9" r="11.5" fill="#3cb06c"/>
<circle cx="1640.0" cy="205.4" r="11.5" fill="#3cb06c"/>
<circle cx="1598.0" cy="228.5" r="11.5" fill="#3cb06c"/>
<circle cx="1557.3" cy="256.6" r="11.5" fill="#3cb06c"/>
<circle cx="1519.3" cy="288.0" r="11.5" fill="#3cb06c"/>
<circle cx="1488.3" cy="323.0" r="11.5" fill="#3cb06c"/>
<circle cx="1460.7" cy="359.7" r="11.5" fill="#3cb06c"/>
<circle cx="1437.6" cy="397.7" r="11.5" fill="#3cb06c"/>
<circle cx="1415.7" cy="437.8" r="11.5" fill="#3cb06c"/>
<circle cx="1396.2" cy="479.5" r="11.5" fill="#3cb06c"/>
<circle cx="1378.0" cy="521.8" r="11.5" fill="#3cb06c"/>
<circle cx="1361.5" cy="563.2" r="11.5" fill="#3cb06c"/>
<circle cx="1345.6" cy="607.0" r="11.5" fill="#3cb06c"/>
<circle cx="1330.0" cy="649.6" r="11.5" fill="#3cb06c"/>
<circle cx="1315.8" cy="692.6" r="11.5" fill="#3cb06c"/>
<circle cx="1300.9" cy="735.6" r="11.5" fill="#3cb06c"/>
<circle cx="1286.7" cy="779.3" r="11.5" fill="#3cb06c"/>
<circle cx="1273.8" cy="822.3" r="11.5" fill="#3cb06c"/>
<circle cx="1260.6" cy="865.3" r="11.5" fill="#3cb06c"/>
<circle cx="1246.4" cy="909.7" r="11.5" fill="#3cb06c"/>
<path d="M2005.7,120.7 L2001.5,121.9 L1997.2,123.0 L1992.9,124.1 L1988.6,125.2 L1984.3,126.3 L1980.0,127.4 L1975.7,128.5 L1971.3,129.6 L1967.0,130.6 L1962.6,131.7 L1958.2,132.7 L1953.8,133.8 L1949.4,134.8 L1945.0,135.9 L1940.6,136.9 L1936.1,137.9 L1931.7,139.0 L1927.2,140.0 L1922.7,141.0 L1918.3,142.0 L1913.8,143.1 L1909.3,144.1 L1904.8,145.2 L1900.3,146.2 L1895.8,147.2 L1891.3,148.3 L1886.7,149.4 L1882.2,150.4 L1877.7,151.5 L1873.2,152.6 L1868.6,153.7 L1864.1,154.8 L1859.6,155.9 L1855.0,157.0 L1850.5,158.2 L1846.0,159.4 L1841.4,160.5 L1836.9,161.7 L1832.3,162.9 L1827.8,164.1 L1823.3,165.4 L1818.8,166.6 L1814.2,167.9 L1809.7,169.2 L1805.2,170.5 L1800.7,171.9 L1796.2,173.2 L1791.7,174.6 L1787.2,176.0 L1782.7,177.4 L1778.3,178.9 L1773.8,180.3 L1769.3,181.8 L1764.9,183.3 L1760.5,184.9 L1756.1,186.5 L1751.7,188.1 L1747.3,189.7 L1742.9,191.3 L1738.6,193.0 L1734.2,194.7 L1729.9,196.5 L1725.6,198.2 L1721.3,200.0 L1717.1,201.9 L1712.8,203.7 L1708.6,205.6 L1704.4,207.5 L1700.2,209.5 L1696.1,211.5 L1691.9,213.5 L1687.8,215.6 L1683.7,217.7 L1679.7,219.8 L1675.7,222.0 L1671.7,224.2 L1667.7,226.5 L1663.7,228.7 L1659.8,231.1 L1655.9,233.4 L1652.1,235.8 L1648.2,238.3 L1644.4,240.8 L1640.7,243.3 L1636.9,245.9 L1633.2,248.5 L1629.5,251.1 L1625.9,253.8 L1622.3,256.5 L1618.7,259.3 L1615.1,262.0 L1611.6,264.9 L1608.1,267.7 L1604.6,270.6 L1601.2,273.6 L1597.8,276.5 L1594.4,279.5 L1591.0,282.6 L1587.7,285.6 L1584.4,288.7 L1581.1,291.8 L1577.8,295.0 L1574.6,298.2 L1571.4,301.4 L1568.3,304.7 L1565.1,308.0 L1562.0,311.3 L1558.9,314.6 L1555.9,318.0 L1552.8,321.4 L1549.8,324.8 L1546.8,328.2 L1543.9,331.7 L1540.9,335.2 L1538.0,338.7 L1535.2,342.3 L1532.3,345.9 L1529.5,349.5 L1526.7,353.1 L1523.9,356.7 L1521.1,360.4 L1518.4,364.1 L1515.7,367.8 L1513.0,371.6 L1510.3,375.3 L1507.7,379.1 L1505.0,382.9 L1502.4,386.7 L1499.9,390.6 L1497.3,394.4 L1494.8,398.3 L1492.3,402.2 L1489.8,406.1 L1487.3,410.0 L1484.9,414.0 L1482.5,417.9 L1480.1,421.9 L1477.7,425.9 L1475.3,429.9 L1473.0,433.9 L1470.7,437.9 L1468.4,442.0 L1466.1,446.0 L1463.9,450.1 L1461.6,454.2 L1459.4,458.3 L1457.2,462.4 L1455.0,466.5 L1452.9,470.6 L1450.7,474.8 L1448.6,478.9 L1446.5,483.0 L1444.4,487.2 L1442.4,491.4 L1440.3,495.6 L1438.3,499.7 L1436.3,503.9 L1434.3,508.1 L1432.3,512.3 L1430.4,516.5 L1428.4,520.7 L1426.5,524.9 L1424.6,529.2 L1422.7,533.4 L1420.8,537.6 L1419.0,541.9 L1417.1,546.1 L1415.3,550.3 L1413.5,554.6 L1411.7,558.9 L1409.9,563.1 L1408.2,567.4 L1406.4,571.6 L1404.7,575.9 L1403.0,580.2 L1401.2,584.5 L1399.6,588.8 L1397.9,593.1 L1396.2,597.4 L1394.6,601.7 L1392.9,606.0 L1391.3,610.3 L1389.7,614.6 L1388.1,618.9 L1386.5,623.2 L1384.9,627.5 L1383.4,631.9 L1381.8,636.2 L1380.3,640.5 L1378.8,644.9 L1377.3,649.2 L1375.8,653.6 L1374.3,657.9 L1372.8,662.3 L1371.3,666.6 L1369.9,671.0 L1368.5,675.4 L1367.0,679.7 L1365.6,684.1 L1364.2,688.5 L1362.8,692.8 L1361.4,697.2 L1360.0,701.6 L1358.6,706.0 L1357.3,710.4 L1355.9,714.8 L1354.6,719.2 L1353.2,723.6 L1351.9,728.0 L1350.6,732.4 L1349.3,736.8 L1348.0,741.2 L1346.7,745.6 L1345.4,750.0 L1344.1,754.5 L1342.9,758.9 L1341.6,763.3 L1340.3,767.7 L1339.1,772.1 L1337.8,776.6 L1336.6,781.0 L1335.4,785.4 L1334.1,789.9 L1332.9,794.3 L1331.7,798.8 L1330.5,803.2 L1329.3,807.6 L1328.1,812.1 L1326.9,816.5 L1325.7,821.0 L1324.6,825.4 L1323.4,829.9 L1322.2,834.4 L1321.0,838.8 L1319.9,843.3 L1318.7,847.7 L1317.6,852.2 L1316.4,856.7 L1315.3,861.1 L1314.1,865.6 L1313.0,870.0 L1311.8,874.5 L1310.7,879.0 L1309.6,883.5 L1308.4,887.9 L1307.3,892.4 L1306.2,896.9 L1305.1,901.3 L1303.9,905.8 L1302.8,910.3 L1301.7,914.8 L1300.6,919.3 L1299.5,923.7 L1298.3,928.2 L1297.2,932.7 L1296.1,937.2 L1295.0,941.6 L1293.9,946.1 L1292.7,950.6 L1291.6,955.1 L1290.5,959.6 L1289.4,964.1 L1288.3,968.5 L1287.2,973.0 L1286.0,977.5 L1284.9,982.0 L1283.8,986.5 L1282.7,990.9 L1281.5,995.4 L1280.4,999.9 L1279.3,1004.4 L1278.1,1008.9 L1277.0,1013.4 L1275.9,1017.8 L1274.7,1022.3 L1273.6,1026.8 L1272.4,1031.3 L1271.3,1035.8 L1270.1,1040.2 L1269.0,1044.7 L1267.8,1049.2 L1266.6,1053.7 L1265.5,1058.1 L1264.3,1062.6 L1263.1,1067.1 L1261.9,1071.6 L1260.7,1076.0 L1259.6,1080.5 L1258.4,1085.0 L1257.1,1089.4 L1255.9,1093.9 L1254.7,1098.4 L1253.5,1102.8 L1252.3,1107.3 L1251.0,1111.8 L1249.8,1116.2 L1248.5,1120.7 L1247.3,1125.1 L1246.0,1129.6" fill="none" stroke="#00c8cc" stroke-width="13" stroke-linecap="round" stroke-linejoin="round"/>
</g>
<clipPath id="clipc"><rect x="2199.25" y="41.95" width="814.3000000000002" height="1102.5"/></clipPath>
<g clip-path="url(#clipc)">
<line x1="2225.50" y1="522.50" x2="2225.50" y2="666.50" stroke="#8c8c8c" stroke-width="1" stroke-linecap="butt"/>
<line x1="2219.50" y1="522.50" x2="2231.50" y2="522.50" stroke="#8c8c8c" stroke-width="1" stroke-linecap="butt"/>
<line x1="2219.50" y1="666.50" x2="2231.50" y2="666.50" stroke="#8c8c8c" stroke-width="1" stroke-linecap="butt"/>
<rect x="2969.5" y="91.3" width="37" height="37" rx="2" fill="#000"/>
<rect x="2676.0" y="141.0" width="37" height="37" rx="2" fill="#000"/>
<rect x="2500.7" y="263.5" width="37" height="37" rx="2" fill="#000"/>
<rect x="2324.2" y="381.5" width="37" height="37" rx="2" fill="#000"/>
<rect x="2206.7" y="547.5" width="37" height="37" rx="2" fill="#000"/>
<line x1="2948.70" y1="118.20" x2="2986.20" y2="111.60" stroke="#ff0000" stroke-width="23" stroke-linecap="round"/>
<line x1="2752.40" y1="160.70" x2="2826.80" y2="140.80" stroke="#ff0000" stroke-width="23" stroke-linecap="round"/>
<line x1="2568.80" y1="246.70" x2="2633.30" y2="208.60" stroke="#ff0000" stroke-width="23" stroke-linecap="round"/>
<line x1="2411.70" y1="362.90" x2="2471.20" y2="313.30" stroke="#ff0000" stroke-width="23" stroke-linecap="round"/>
<line x1="2303.10" y1="508.50" x2="2340.50" y2="445.60" stroke="#ff0000" stroke-width="23" stroke-linecap="round"/>
<line x1="2224.70" y1="687.60" x2="2253.50" y2="617.10" stroke="#ff0000" stroke-width="23" stroke-linecap="round"/>
<circle cx="2954.9" cy="116.7" r="11.5" fill="#3cb06c"/>
<circle cx="2906.9" cy="125.3" r="11.5" fill="#3cb06c"/>
<circle cx="2858.3" cy="134.2" r="11.5" fill="#3cb06c"/>
<circle cx="2810.3" cy="144.8" r="11.5" fill="#3cb06c"/>
<circle cx="2762.3" cy="156.7" r="11.5" fill="#3cb06c"/>
<circle cx="2715.3" cy="172.3" r="11.5" fill="#3cb06c"/>
<circle cx="2669.7" cy="190.4" r="11.5" fill="#3cb06c"/>
<circle cx="2625.0" cy="212.9" r="11.5" fill="#3cb06c"/>
<circle cx="2581.0" cy="238.4" r="11.5" fill="#3cb06c"/>
<circle cx="2539.7" cy="265.5" r="11.5" fill="#3cb06c"/>
<circle cx="2499.6" cy="293.0" r="11.5" fill="#3cb06c"/>
<circle cx="2457.3" cy="321.3" r="11.5" fill="#3cb06c"/>
<circle cx="2418.3" cy="352.3" r="11.5" fill="#3cb06c"/>
<circle cx="2379.2" cy="386.7" r="11.5" fill="#3cb06c"/>
<circle cx="2347.8" cy="420.8" r="11.5" fill="#3cb06c"/>
<circle cx="2320.0" cy="456.6" r="11.5" fill="#3cb06c"/>
<circle cx="2293.5" cy="496.3" r="11.5" fill="#3cb06c"/>
<circle cx="2271.0" cy="535.0" r="11.5" fill="#3cb06c"/>
<circle cx="2246.9" cy="577.3" r="11.5" fill="#3cb06c"/>
<circle cx="2225.7" cy="619.8" r="11.5" fill="#3cb06c"/>
<path d="M2988.9,127.8 L2984.8,129.1 L2980.7,130.3 L2976.6,131.6 L2972.5,132.9 L2968.4,134.1 L2964.3,135.4 L2960.2,136.6 L2956.0,137.9 L2951.9,139.2 L2947.8,140.4 L2943.7,141.7 L2939.6,143.0 L2935.5,144.2 L2931.4,145.5 L2927.2,146.8 L2923.1,148.1 L2919.0,149.4 L2914.9,150.7 L2910.8,152.0 L2906.7,153.3 L2902.6,154.6 L2898.5,155.9 L2894.4,157.2 L2890.3,158.6 L2886.2,159.9 L2882.1,161.2 L2878.0,162.6 L2873.9,164.0 L2869.8,165.3 L2865.8,166.7 L2861.7,168.1 L2857.6,169.5 L2853.6,170.9 L2849.5,172.4 L2845.4,173.8 L2841.4,175.3 L2837.4,176.7 L2833.3,178.2 L2829.3,179.7 L2825.3,181.2 L2821.2,182.7 L2817.2,184.2 L2813.2,185.8 L2809.2,187.4 L2805.2,188.9 L2801.2,190.5 L2797.3,192.1 L2793.3,193.7 L2789.3,195.4 L2785.4,197.0 L2781.4,198.7 L2777.5,200.4 L2773.6,202.1 L2769.6,203.8 L2765.7,205.5 L2761.8,207.2 L2757.9,209.0 L2754.0,210.8 L2750.2,212.6 L2746.3,214.4 L2742.4,216.2 L2738.6,218.1 L2734.7,220.0 L2730.9,221.8 L2727.1,223.7 L2723.3,225.7 L2719.5,227.6 L2715.7,229.6 L2711.9,231.6 L2708.1,233.6 L2704.4,235.6 L2700.6,237.6 L2696.9,239.7 L2693.2,241.8 L2689.5,243.9 L2685.8,246.0 L2682.1,248.1 L2678.4,250.3 L2674.7,252.5 L2671.1,254.7 L2667.4,256.9 L2663.8,259.2 L2660.2,261.4 L2656.6,263.7 L2653.0,266.1 L2649.4,268.4 L2645.9,270.8 L2642.3,273.2 L2638.8,275.6 L2635.3,278.0 L2631.8,280.5 L2628.3,282.9 L2624.8,285.4 L2621.3,287.9 L2617.9,290.5 L2614.4,293.0 L2611.0,295.6 L2607.6,298.2 L2604.2,300.9 L2600.8,303.5 L2597.5,306.2 L2594.1,308.8 L2590.8,311.5 L2587.4,314.3 L2584.1,317.0 L2580.8,319.8 L2577.6,322.6 L2574.3,325.4 L2571.0,328.2 L2567.8,331.0 L2564.6,333.9 L2561.4,336.7 L2558.2,339.6 L2555.0,342.5 L2551.8,345.5 L2548.7,348.4 L2545.6,351.4 L2542.4,354.4 L2539.3,357.4 L2536.3,360.4 L2533.2,363.4 L2530.1,366.5 L2527.1,369.5 L2524.1,372.6 L2521.1,375.7 L2518.1,378.8 L2515.1,381.9 L2512.1,385.1 L2509.2,388.2 L2506.3,391.4 L2503.4,394.6 L2500.5,397.8 L2497.6,401.0 L2494.7,404.3 L2491.9,407.5 L2489.0,410.8 L2486.2,414.0 L2483.4,417.3 L2480.7,420.6 L2477.9,424.0 L2475.2,427.3 L2472.4,430.6 L2469.7,434.0 L2467.0,437.4 L2464.3,440.7 L2461.7,444.1 L2459.0,447.5 L2456.4,451.0 L2453.8,454.4 L2451.2,457.8 L2448.6,461.3 L2446.1,464.7 L2443.5,468.2 L2441.0,471.7 L2438.5,475.2 L2436.0,478.7 L2433.6,482.2 L2431.1,485.8 L2428.7,489.3 L2426.3,492.9 L2423.9,496.4 L2421.5,500.0 L2419.1,503.6 L2416.8,507.2 L2414.5,510.8 L2412.2,514.4 L2409.9,518.0 L2407.6,521.7 L2405.4,525.3 L2403.1,529.0 L2400.9,532.6 L2398.7,536.3 L2396.5,540.0 L2394.4,543.7 L2392.2,547.4 L2390.1,551.1 L2388.0,554.8 L2385.9,558.6 L2383.9,562.3 L2381.8,566.1 L2379.8,569.8 L2377.8,573.6 L2375.8,577.4 L2373.8,581.2 L2371.9,585.0 L2369.9,588.8 L2368.0,592.6 L2366.1,596.5 L2364.2,600.3 L2362.4,604.1 L2360.6,608.0 L2358.7,611.9 L2356.9,615.7 L2355.2,619.6 L2353.4,623.5 L2351.6,627.4 L2349.9,631.3 L2348.2,635.3 L2346.5,639.2 L2344.9,643.1 L2343.2,647.1 L2341.6,651.0 L2340.0,655.0 L2338.4,659.0 L2336.8,663.0 L2335.3,666.9 L2333.7,670.9 L2332.2,674.9 L2330.7,679.0 L2329.2,683.0 L2327.7,687.0 L2326.3,691.0 L2324.8,695.1 L2323.4,699.1 L2322.0,703.2 L2320.6,707.2 L2319.2,711.3 L2317.8,715.3 L2316.5,719.4 L2315.1,723.5 L2313.8,727.6 L2312.4,731.6 L2311.1,735.7 L2309.8,739.8 L2308.5,743.9 L2307.3,748.0 L2306.0,752.1 L2304.7,756.2 L2303.5,760.4 L2302.2,764.5 L2301.0,768.6 L2299.8,772.7 L2298.6,776.8 L2297.4,781.0 L2296.2,785.1 L2295.0,789.2 L2293.8,793.4 L2292.6,797.5 L2291.4,801.6 L2290.3,805.8 L2289.1,809.9 L2288.0,814.1 L2286.8,818.2 L2285.7,822.4 L2284.6,826.5 L2283.4,830.7 L2282.3,834.8 L2281.2,839.0 L2280.1,843.1 L2278.9,847.3 L2277.8,851.4 L2276.7,855.6 L2275.6,859.7 L2274.5,863.9 L2273.4,868.1 L2272.3,872.2 L2271.3,876.4 L2270.2,880.5 L2269.1,884.7 L2268.0,888.8 L2266.9,893.0 L2265.8,897.2 L2264.8,901.3 L2263.7,905.5 L2262.6,909.6 L2261.5,913.8 L2260.5,917.9 L2259.4,922.1 L2258.3,926.3 L2257.2,930.4 L2256.2,934.6 L2255.1,938.7 L2254.0,942.9 L2252.9,947.0 L2251.9,951.2 L2250.8,955.3 L2249.7,959.5 L2248.6,963.6 L2247.5,967.8 L2246.4,971.9 L2245.4,976.0 L2244.3,980.2 L2243.2,984.3 L2242.1,988.4 L2241.0,992.6 L2239.9,996.7 L2238.7,1000.8 L2237.6,1005.0 L2236.5,1009.1 L2235.4,1013.2 L2234.3,1017.3 L2233.1,1021.4 L2232.0,1025.5 L2230.8,1029.7 L2229.7,1033.8 L2228.5,1037.9 L2227.4,1042.0 L2226.2,1046.1 L2225.0,1050.2" fill="none" stroke="#00c8cc" stroke-width="13" stroke-linecap="round" stroke-linejoin="round"/>
</g>
<clipPath id="clipd"><rect x="3182.75" y="39.95" width="814.8000000000002" height="1102.8"/></clipPath>
<g clip-path="url(#clipd)">
<line x1="3930.50" y1="133.50" x2="3930.50" y2="191.50" stroke="#8c8c8c" stroke-width="1" stroke-linecap="butt"/>
<line x1="3924.50" y1="133.50" x2="3936.50" y2="133.50" stroke="#8c8c8c" stroke-width="1" stroke-linecap="butt"/>
<line x1="3924.50" y1="191.50" x2="3936.50" y2="191.50" stroke="#8c8c8c" stroke-width="1" stroke-linecap="butt"/>
<line x1="3465.50" y1="314.50" x2="3465.50" y2="399.50" stroke="#8c8c8c" stroke-width="1" stroke-linecap="butt"/>
<line x1="3459.50" y1="314.50" x2="3471.50" y2="314.50" stroke="#8c8c8c" stroke-width="1" stroke-linecap="butt"/>
<line x1="3459.50" y1="399.50" x2="3471.50" y2="399.50" stroke="#8c8c8c" stroke-width="1" stroke-linecap="butt"/>
<line x1="3214.50" y1="834.50" x2="3214.50" y2="912.50" stroke="#8c8c8c" stroke-width="1" stroke-linecap="butt"/>
<line x1="3208.50" y1="834.50" x2="3220.50" y2="834.50" stroke="#8c8c8c" stroke-width="1" stroke-linecap="butt"/>
<line x1="3208.50" y1="912.50" x2="3220.50" y2="912.50" stroke="#8c8c8c" stroke-width="1" stroke-linecap="butt"/>
<rect x="3911.3" y="141.5" width="37" height="37" rx="2" fill="#000"/>
<rect x="3447.2" y="333.8" width="37" height="37" rx="2" fill="#000"/>
<rect x="3196.7" y="851.0" width="37" height="37" rx="2" fill="#000"/>
<line x1="3881.50" y1="184.00" x2="3931.10" y2="163.10" stroke="#ff0000" stroke-width="23" stroke-linecap="round"/>
<line x1="3704.00" y1="263.40" x2="3773.40" y2="230.40" stroke="#ff0000" stroke-width="23" stroke-linecap="round"/>
<line x1="3535.60" y1="375.40" x2="3598.40" y2="328.10" stroke="#ff0000" stroke-width="23" stroke-linecap="round"/>
<line x1="3403.90" y1="519.00" x2="3447.90" y2="462.80" stroke="#ff0000" stroke-width="23" stroke-linecap="round"/>
<line x1="3303.00" y1="681.60" x2="3339.70" y2="617.00" stroke="#ff0000" stroke-width="23" stroke-linecap="round"/>
<line x1="3214.70" y1="853.90" x2="3247.80" y2="788.40" stroke="#ff0000" stroke-width="23" stroke-linecap="round"/>
<circle cx="3923.3" cy="166.3" r="11.5" fill="#3cb06c"/>
<circle cx="3878.0" cy="185.1" r="11.5" fill="#3cb06c"/>
<circle cx="3833.3" cy="203.3" r="11.5" fill="#3cb06c"/>
<circle cx="3788.0" cy="223.2" r="11.5" fill="#3cb06c"/>
<circle cx="3744.0" cy="243.0" r="11.5" fill="#3cb06c"/>
<circle cx="3701.0" cy="265.5" r="11.5" fill="#3cb06c"/>
<circle cx="3657.3" cy="289.3" r="11.5" fill="#3cb06c"/>
<circle cx="3615.0" cy="315.0" r="11.5" fill="#3cb06c"/>
<circle cx="3574.6" cy="344.0" r="11.5" fill="#3cb06c"/>
<circle cx="3535.6" cy="375.4" r="11.5" fill="#3cb06c"/>
<circle cx="3497.5" cy="409.2" r="11.5" fill="#3cb06c"/>
<circle cx="3463.8" cy="444.6" r="11.5" fill="#3cb06c"/>
<circle cx="3432.0" cy="482.0" r="11.5" fill="#3cb06c"/>
<circle cx="3403.9" cy="519.0" r="11.5" fill="#3cb06c"/>
<circle cx="3376.1" cy="558.7" r="11.5" fill="#3cb06c"/>
<circle cx="3352.0" cy="597.0" r="11.5" fill="#3cb06c"/>
<circle cx="3326.2" cy="640.2" r="11.5" fill="#3cb06c"/>
<circle cx="3303.0" cy="681.6" r="11.5" fill="#3cb06c"/>
<circle cx="3279.9" cy="724.9" r="11.5" fill="#3cb06c"/>
<circle cx="3257.7" cy="767.9" r="11.5" fill="#3cb06c"/>
<circle cx="3236.2" cy="810.9" r="11.5" fill="#3cb06c"/>
<circle cx="3214.7" cy="853.9" r="11.5" fill="#3cb06c"/>
<path d="M3932.8,181.0 L3929.4,183.1 L3926.1,185.2 L3922.8,187.3 L3919.4,189.4 L3916.1,191.6 L3912.8,193.7 L3909.5,195.8 L3906.2,198.0 L3902.9,200.1 L3899.6,202.3 L3896.3,204.4 L3893.0,206.6 L3889.7,208.8 L3886.4,211.0 L3883.1,213.2 L3879.8,215.4 L3876.6,217.6 L3873.3,219.8 L3870.0,222.0 L3866.8,224.2 L3863.5,226.5 L3860.3,228.7 L3857.0,231.0 L3853.8,233.2 L3850.6,235.5 L3847.3,237.7 L3844.1,240.0 L3840.9,242.3 L3837.7,244.6 L3834.5,246.9 L3831.3,249.2 L3828.1,251.5 L3824.9,253.8 L3821.7,256.1 L3818.5,258.4 L3815.3,260.8 L3812.1,263.1 L3809.0,265.4 L3805.8,267.8 L3802.7,270.2 L3799.5,272.5 L3796.4,274.9 L3793.2,277.3 L3790.1,279.7 L3786.9,282.1 L3783.8,284.5 L3780.7,286.9 L3777.6,289.3 L3774.5,291.7 L3771.4,294.1 L3768.3,296.6 L3765.2,299.0 L3762.1,301.4 L3759.0,303.9 L3755.9,306.4 L3752.9,308.8 L3749.8,311.3 L3746.7,313.8 L3743.7,316.3 L3740.6,318.8 L3737.6,321.3 L3734.6,323.8 L3731.5,326.3 L3728.5,328.8 L3725.5,331.3 L3722.5,333.9 L3719.5,336.4 L3716.5,339.0 L3713.5,341.5 L3710.5,344.1 L3707.5,346.6 L3704.5,349.2 L3701.6,351.8 L3698.6,354.4 L3695.7,357.0 L3692.7,359.6 L3689.8,362.2 L3686.8,364.8 L3683.9,367.4 L3681.0,370.0 L3678.0,372.7 L3675.1,375.3 L3672.2,378.0 L3669.3,380.6 L3666.4,383.3 L3663.6,386.0 L3660.7,388.6 L3657.8,391.3 L3654.9,394.0 L3652.1,396.7 L3649.2,399.4 L3646.4,402.1 L3643.5,404.8 L3640.7,407.5 L3637.9,410.3 L3635.1,413.0 L3632.3,415.8 L3629.4,418.5 L3626.6,421.3 L3623.9,424.0 L3621.1,426.8 L3618.3,429.6 L3615.5,432.3 L3612.8,435.1 L3610.0,437.9 L3607.3,440.7 L3604.5,443.5 L3601.8,446.4 L3599.1,449.2 L3596.3,452.0 L3593.6,454.8 L3590.9,457.7 L3588.2,460.5 L3585.5,463.4 L3582.8,466.3 L3580.2,469.1 L3577.5,472.0 L3574.8,474.9 L3572.2,477.8 L3569.5,480.7 L3566.9,483.6 L3564.3,486.5 L3561.7,489.4 L3559.0,492.3 L3556.4,495.2 L3553.8,498.2 L3551.2,501.1 L3548.7,504.1 L3546.1,507.0 L3543.5,510.0 L3540.9,513.0 L3538.4,515.9 L3535.8,518.9 L3533.3,521.9 L3530.8,524.9 L3528.3,527.9 L3525.7,530.9 L3523.2,533.9 L3520.7,537.0 L3518.3,540.0 L3515.8,543.0 L3513.3,546.1 L3510.8,549.1 L3508.4,552.2 L3505.9,555.2 L3503.5,558.3 L3501.1,561.4 L3498.6,564.5 L3496.2,567.6 L3493.8,570.7 L3491.4,573.8 L3489.0,576.9 L3486.6,580.0 L3484.3,583.1 L3481.9,586.2 L3479.6,589.4 L3477.2,592.5 L3474.9,595.7 L3472.5,598.8 L3470.2,602.0 L3467.9,605.2 L3465.6,608.3 L3463.3,611.5 L3461.0,614.7 L3458.7,617.9 L3456.5,621.1 L3454.2,624.3 L3451.9,627.5 L3449.7,630.7 L3447.5,634.0 L3445.2,637.2 L3443.0,640.4 L3440.8,643.7 L3438.6,646.9 L3436.4,650.2 L3434.2,653.4 L3432.0,656.7 L3429.8,660.0 L3427.7,663.3 L3425.5,666.5 L3423.4,669.8 L3421.2,673.1 L3419.1,676.4 L3416.9,679.7 L3414.8,683.0 L3412.7,686.4 L3410.6,689.7 L3408.5,693.0 L3406.4,696.3 L3404.3,699.7 L3402.3,703.0 L3400.2,706.4 L3398.1,709.7 L3396.1,713.1 L3394.0,716.4 L3392.0,719.8 L3390.0,723.2 L3388.0,726.6 L3385.9,729.9 L3383.9,733.3 L3381.9,736.7 L3380.0,740.1 L3378.0,743.5 L3376.0,746.9 L3374.0,750.3 L3372.1,753.8 L3370.1,757.2 L3368.2,760.6 L3366.2,764.0 L3364.3,767.5 L3362.4,770.9 L3360.4,774.3 L3358.5,777.8 L3356.6,781.2 L3354.7,784.7 L3352.8,788.1 L3350.9,791.6 L3349.1,795.1 L3347.2,798.5 L3345.3,802.0 L3343.5,805.5 L3341.6,809.0 L3339.8,812.5 L3337.9,816.0 L3336.1,819.5 L3334.3,822.9 L3332.5,826.4 L3330.7,830.0 L3328.9,833.5 L3327.1,837.0 L3325.3,840.5 L3323.5,844.0 L3321.7,847.5 L3320.0,851.1 L3318.2,854.6 L3316.4,858.1 L3314.7,861.7 L3312.9,865.2 L3311.2,868.7 L3309.5,872.3 L3307.7,875.8 L3306.0,879.4 L3304.3,882.9 L3302.6,886.5 L3300.9,890.0 L3299.2,893.6 L3297.5,897.2 L3295.9,900.7 L3294.2,904.3 L3292.5,907.9 L3290.8,911.5 L3289.2,915.0 L3287.5,918.6 L3285.9,922.2 L3284.3,925.8 L3282.6,929.4 L3281.0,933.0 L3279.4,936.6 L3277.8,940.2 L3276.2,943.8 L3274.6,947.4 L3273.0,951.0 L3271.4,954.6 L3269.8,958.2 L3268.2,961.8 L3266.6,965.4 L3265.1,969.0 L3263.5,972.6 L3262.0,976.2 L3260.4,979.9 L3258.9,983.5 L3257.3,987.1 L3255.8,990.7 L3254.3,994.4 L3252.7,998.0 L3251.2,1001.6 L3249.7,1005.2 L3248.2,1008.9 L3246.7,1012.5 L3245.2,1016.1 L3243.7,1019.8 L3242.2,1023.4 L3240.8,1027.1 L3239.3,1030.7 L3237.8,1034.3 L3236.4,1038.0 L3234.9,1041.6 L3233.4,1045.3 L3232.0,1048.9 L3230.6,1052.6 L3229.1,1056.2 L3227.7,1059.9 L3226.3,1063.5 L3224.8,1067.2 L3223.4,1070.8 L3222.0,1074.5 L3220.6,1078.1 L3219.2,1081.8 L3217.8,1085.4" fill="none" stroke="#00c8cc" stroke-width="13" stroke-linecap="round" stroke-linejoin="round"/>
</g>
<text x="235.39" y="122.80" font-size="64" font-weight="bold" fill="#000" letter-spacing="2">(a)</text>
<text x="1217.09" y="117.40" font-size="64" font-weight="bold" fill="#000" letter-spacing="2">(b)</text>
<text x="2203.69" y="109.50" font-size="64" font-weight="bold" fill="#000" letter-spacing="2">(c)</text>
<text x="3193.62" y="113.20" font-size="65.6" font-weight="bold" fill="#000" letter-spacing="2">(d)</text>
<rect x="325.60" y="72.90" width="388.70" height="108.40" stroke="#000" stroke-width="3.4" fill="none"/>
<text x="336.42" y="126.30" font-size="50" font-weight="bold" fill="#000">48</text>
<text x="385.54" y="155.90" font-size="73" font-weight="bold" fill="#000">Ca</text>
<text x="471.03" y="158.73" font-size="81" font-weight="bold" fill="#000">+</text>
<text x="515.40" y="126.30" font-size="50" font-weight="bold" fill="#000">248</text>
<text x="590.54" y="155.90" font-size="73" font-weight="bold" fill="#000">Cm</text>
<rect x="1322.30" y="68.10" width="319.80" height="106.00" stroke="#000" stroke-width="3.4" fill="none"/>
<text x="1332.82" y="120.80" font-size="50" font-weight="bold" fill="#000">48</text>
<text x="1380.24" y="149.30" font-size="73" font-weight="bold" fill="#000">Ca</text>
<text x="1463.93" y="152.03" font-size="81" font-weight="bold" fill="#000">+</text>
<text x="1507.40" y="120.80" font-size="50" font-weight="bold" fill="#000">238</text>
<text x="1581.08" y="149.30" font-size="73" font-weight="bold" fill="#000">U</text>
<rect x="2291.00" y="60.00" width="279.70" height="107.50" stroke="#000" stroke-width="3.4" fill="none"/>
<text x="2300.32" y="114.00" font-size="50" font-weight="bold" fill="#000">36</text>
<text x="2350.61" y="143.20" font-size="73" font-weight="bold" fill="#000">S</text>
<text x="2388.93" y="145.73" font-size="81" font-weight="bold" fill="#000">+</text>
<text x="2432.70" y="114.00" font-size="50" font-weight="bold" fill="#000">238</text>
<text x="2508.98" y="143.20" font-size="73" font-weight="bold" fill="#000">U</text>
<rect x="3312.20" y="50.20" width="305.30" height="107.30" stroke="#000" stroke-width="3.4" fill="none"/>
<text x="3321.52" y="103.30" font-size="50" font-weight="bold" fill="#000">48</text>
<text x="3373.46" y="132.10" font-size="73" font-weight="bold" fill="#000">Ti</text>
<text x="3435.83" y="135.13" font-size="81" font-weight="bold" fill="#000">+</text>
<text x="3480.00" y="103.30" font-size="50" font-weight="bold" fill="#000">238</text>
<text x="3556.48" y="132.10" font-size="73" font-weight="bold" fill="#000">U</text>
<rect x="401.10" y="979.20" width="643.00" height="166.30" stroke="#444" stroke-width="1.4" fill="none"/>
<use href="#beta" transform="translate(408.50,1001.82) scale(1.0000)"/>
<text x="437.36" y="1050.30" font-size="39" font-weight="bold" fill="#000">2</text>
<use href="#beta" transform="translate(460.60,1001.82) scale(1.0000)"/>
<text x="490.97" y="1050.30" font-size="39" font-weight="bold" fill="#000">4</text>
<text x="520.92" y="1041.60" font-size="56.5" font-weight="bold"><tspan>(Elong.) -</tspan><tspan dx="6.21"> </tspan><tspan dy="0.00">(</tspan><tspan dy="0.00">0</tspan><tspan font-size="45.2" font-weight="normal" dy="-9.44">°</tspan><tspan dy="9.44">,</tspan><tspan dy="0.00">1</tspan><tspan font-size="45.2" font-weight="normal" dy="-9.44">°</tspan><tspan dy="9.44">)</tspan></text>
<use href="#beta" transform="translate(408.50,1083.82) scale(1.0000)"/>
<text x="437.36" y="1132.30" font-size="39" font-weight="bold" fill="#000">2</text>
<use href="#beta" transform="translate(460.60,1083.82) scale(1.0000)"/>
<text x="490.97" y="1132.30" font-size="39" font-weight="bold" fill="#000">4</text>
<use href="#beta" transform="translate(513.70,1083.82) scale(1.0000)"/>
<text x="542.27" y="1132.30" font-size="39" font-weight="bold" fill="#000">6</text>
<text x="576.82" y="1123.60" font-size="56.5" font-weight="bold"><tspan>(Elong.) -</tspan><tspan dx="6.21"> </tspan><tspan dy="0.00">(</tspan><tspan dy="0.00">0</tspan><tspan font-size="45.2" font-weight="normal" dy="-9.44">°</tspan><tspan dy="9.44">,</tspan><tspan dy="0.00">1</tspan><tspan dy="0.00">7</tspan><tspan dy="0.00">9</tspan><tspan font-size="45.2" font-weight="normal" dy="-9.44">°</tspan><tspan dy="9.44">)</tspan></text>
<rect x="1442.90" y="973.50" width="566.90" height="161.30" stroke="#444" stroke-width="1.4" fill="none"/>
<use href="#beta" transform="translate(1450.30,994.08) scale(0.9735)"/>
<text x="1478.77" y="1041.60" font-size="36.5" font-weight="bold" fill="#000">2</text>
<use href="#beta" transform="translate(1501.90,994.08) scale(0.9735)"/>
<text x="1531.30" y="1041.60" font-size="36.5" font-weight="bold" fill="#000">4</text>
<text x="1560.38" y="1032.80" font-size="55" font-weight="bold"><tspan>(Elong.) -</tspan><tspan dx="6.05"> </tspan><tspan dy="0.00">(</tspan><tspan dy="0.00">0</tspan><tspan font-size="44.0" font-weight="normal" dy="-9.19">°</tspan><tspan dy="9.19">,</tspan><tspan dy="0.00">2</tspan><tspan font-size="44.0" font-weight="normal" dy="-9.19">°</tspan><tspan dy="9.19">)</tspan></text>
<use href="#beta" transform="translate(1450.30,1074.68) scale(0.9735)"/>
<text x="1478.77" y="1122.20" font-size="36.5" font-weight="bold" fill="#000">2</text>
<use href="#beta" transform="translate(1501.90,1074.68) scale(0.9735)"/>
<text x="1531.30" y="1122.20" font-size="36.5" font-weight="bold" fill="#000">4</text>
<use href="#beta" transform="translate(1553.40,1074.68) scale(0.9735)"/>
<text x="1583.05" y="1122.20" font-size="36.5" font-weight="bold" fill="#000">6</text>
<text x="1614.68" y="1113.40" font-size="55" font-weight="bold"><tspan>(Elong.) -</tspan><tspan dx="6.05"> </tspan><tspan dy="0.00">(</tspan><tspan dy="0.00">0</tspan><tspan font-size="44.0" font-weight="normal" dy="-9.19">°</tspan><tspan dy="9.19">,</tspan><tspan dy="0.00">1</tspan><tspan font-size="44.0" font-weight="normal" dy="-9.19">°</tspan><tspan dy="9.19">)</tspan></text>
<rect x="2389.60" y="959.60" width="615.20" height="167.00" stroke="#444" stroke-width="1.4" fill="none"/>
<use href="#beta" transform="translate(2398.10,982.07) scale(1.0088)"/>
<text x="2426.78" y="1030.60" font-size="38.5" font-weight="bold" fill="#000">2</text>
<use href="#beta" transform="translate(2450.60,982.07) scale(1.0088)"/>
<text x="2480.57" y="1030.60" font-size="38.5" font-weight="bold" fill="#000">4</text>
<text x="2510.80" y="1022.20" font-size="57" font-weight="bold"><tspan>(Elong.) -</tspan><tspan dx="6.27"> </tspan><tspan dy="0.00">(</tspan><tspan dy="0.00">0</tspan><tspan font-size="45.6" font-weight="normal" dy="-9.52">°</tspan><tspan dy="9.52">,</tspan><tspan dy="0.00">2</tspan><tspan font-size="45.6" font-weight="normal" dy="-9.52">°</tspan><tspan dy="9.52">)</tspan></text>
<use href="#beta" transform="translate(2398.10,1064.47) scale(1.0088)"/>
<text x="2426.78" y="1113.00" font-size="38.5" font-weight="bold" fill="#000">2</text>
<use href="#beta" transform="translate(2450.60,1064.47) scale(1.0088)"/>
<text x="2480.57" y="1113.00" font-size="38.5" font-weight="bold" fill="#000">4</text>
<use href="#beta" transform="translate(2503.70,1064.47) scale(1.0088)"/>
<text x="2532.68" y="1113.00" font-size="38.5" font-weight="bold" fill="#000">6</text>
<text x="2566.80" y="1104.60" font-size="57" font-weight="bold"><tspan>(Elong.) -</tspan><tspan dx="6.27"> </tspan><tspan dy="0.00">(</tspan><tspan dy="0.00">3</tspan><tspan dy="0.00">4</tspan><tspan font-size="45.6" font-weight="normal" dy="-9.52">°</tspan><tspan dy="9.52">,</tspan><tspan dy="0.00">0</tspan><tspan font-size="45.6" font-weight="normal" dy="-9.52">°</tspan><tspan dy="9.52">)</tspan></text>
<rect x="3405.20" y="981.20" width="585.60" height="149.90" stroke="#444" stroke-width="1.4" fill="none"/>
<use href="#beta" transform="translate(3412.40,1000.00) scale(0.9027)"/>
<text x="3439.01" y="1044.50" font-size="33" font-weight="bold" fill="#000">2</text>
<use href="#beta" transform="translate(3460.90,1000.00) scale(0.9027)"/>
<text x="3488.35" y="1044.50" font-size="33" font-weight="bold" fill="#000">4</text>
<text x="3515.06" y="1035.90" font-size="51" font-weight="bold"><tspan>(Elong.) -</tspan><tspan dx="5.61"> </tspan><tspan dy="0.00">(</tspan><tspan dy="0.00">1</tspan><tspan font-size="40.8" font-weight="normal" dy="-8.52">°</tspan><tspan dy="8.52">,</tspan><tspan dy="0.00">0</tspan><tspan font-size="40.8" font-weight="normal" dy="-8.52">°</tspan><tspan dy="8.52">)</tspan></text>
<use href="#beta" transform="translate(3412.40,1075.50) scale(0.9027)"/>
<text x="3439.01" y="1120.00" font-size="33" font-weight="bold" fill="#000">2</text>
<use href="#beta" transform="translate(3460.90,1075.50) scale(0.9027)"/>
<text x="3488.35" y="1120.00" font-size="33" font-weight="bold" fill="#000">4</text>
<use href="#beta" transform="translate(3508.80,1075.50) scale(0.9027)"/>
<text x="3536.17" y="1120.00" font-size="33" font-weight="bold" fill="#000">6</text>
<text x="3566.06" y="1111.40" font-size="51" font-weight="bold"><tspan>(Elong.) -</tspan><tspan dx="5.61"> </tspan><tspan dy="0.00">(</tspan><tspan dy="0.00">1</tspan><tspan dy="0.00">8</tspan><tspan dy="0.00">0</tspan><tspan font-size="40.8" font-weight="normal" dy="-8.52">°</tspan><tspan dy="8.52">,</tspan><tspan dy="0.00">0</tspan><tspan font-size="40.8" font-weight="normal" dy="-8.52">°</tspan><tspan dy="8.52">)</tspan></text>
<rect x="579.55" y="703.05" width="449.00" height="257.10" stroke="#333" stroke-width="1.3" fill="none"/>
<rect x="616.2" y="714.9" width="37" height="37" rx="2" fill="#000"/>
<text x="694.28" y="748.60" font-size="42" font-weight="bold" fill="#000">Expt.</text>
<line x1="585.30" y1="790.70" x2="660.40" y2="790.70" stroke="#ff0000" stroke-width="21.7" stroke-linecap="round"/>
<circle cx="586" cy="857.5" r="11.5" fill="#3cb06c"/>
<circle cx="634.7" cy="857.5" r="11.5" fill="#3cb06c"/>
<line x1="585.40" y1="923.80" x2="683.70" y2="923.80" stroke="#00c8cc" stroke-width="12.5" stroke-linecap="round"/>
<use href="#beta" transform="translate(697.20,775.38) scale(0.7522)"/>
<text x="726.42" y="816.60" font-size="28" font-weight="bold" fill="#000">2</text>
<use href="#beta" transform="translate(756.70,775.38) scale(0.7522)"/>
<text x="786.42" y="816.60" font-size="28" font-weight="bold" fill="#000">4</text>
<text x="813.53" y="805.30" font-size="42.5" font-weight="bold" fill="#000">(Elong.)</text>
<use href="#beta" transform="translate(697.20,842.08) scale(0.7522)"/>
<text x="727.52" y="884.00" font-size="28" font-weight="bold" fill="#000">2</text>
<use href="#beta" transform="translate(757.40,842.08) scale(0.7522)"/>
<text x="788.52" y="884.00" font-size="28" font-weight="bold" fill="#000">4</text>
<use href="#beta" transform="translate(816.90,842.08) scale(0.7522)"/>
<text x="846.74" y="884.00" font-size="28" font-weight="bold" fill="#000">6</text>
<text x="873.73" y="872.00" font-size="42.5" font-weight="bold" fill="#000">(Elong.)</text>
<use href="#beta" transform="translate(709.40,908.68) scale(0.7522)"/>
<text x="739.42" y="949.30" font-size="28" font-weight="bold" fill="#000">2</text>
<use href="#beta" transform="translate(768.70,908.68) scale(0.7522)"/>
<text x="800.32" y="949.30" font-size="28" font-weight="bold" fill="#000">4</text>
<use href="#beta" transform="translate(828.80,908.68) scale(0.7522)"/>
<text x="858.64" y="949.30" font-size="28" font-weight="bold" fill="#000">6</text>
<text x="885.33" y="938.60" font-size="42.5" font-weight="bold" fill="#000">(Int.)</text>
<text x="1490.59" y="1388.50" font-size="78" font-weight="bold" fill="#000">Center of mass energy, E</text>
<text x="2344.06" y="1409.00" font-size="48" font-weight="bold" fill="#000">c.m.</text>
<text x="2451.57" y="1388.50" font-size="78" font-weight="bold" fill="#000">(MeV)</text>
<g transform="translate(75.9,1146.4) rotate(-90)">
<text x="-4.05" y="0.00" font-size="83" font-weight="bold" letter-spacing="-3.33">Capture</text>
<text x="288.86" y="0.00" font-size="83" font-weight="bold" letter-spacing="-2.78">cross-section,</text>
<text x="755.24" y="0.00" font-size="83" font-weight="bold" letter-spacing="2.20">σ</text>
<text x="802.62" y="21.00" font-size="55" font-weight="bold" letter-spacing="-1.60">cap</text>
<text x="900.65" y="0.00" font-size="83" font-weight="bold" letter-spacing="-3.33">(mb)</text>
</g>
</svg>
</body></html>
